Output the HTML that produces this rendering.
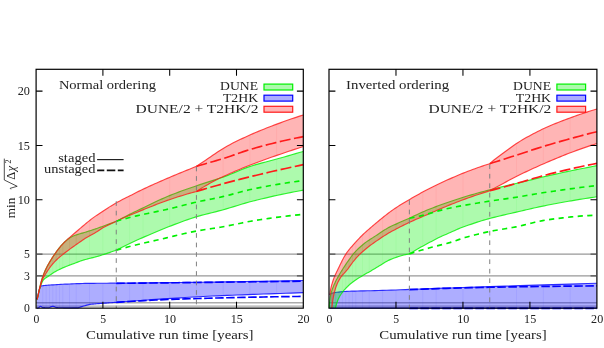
<!DOCTYPE html>
<html><head><meta charset="utf-8"><title>chart</title>
<style>html,body{margin:0;padding:0;background:#fff;}svg{display:block;will-change:transform;font-family:"Liberation Serif",serif;font-size:11.7px;fill:#222;}</style></head><body>
<svg width="604" height="348" viewBox="0 0 604 348">
<rect width="604" height="348" fill="#fff"/>
<g>
<line x1="36.10" x2="303.30" y1="254.07" y2="254.07" stroke="#989898" stroke-width="1.3"/>
<line x1="36.10" x2="303.30" y1="275.78" y2="275.78" stroke="#989898" stroke-width="1.3"/>
<line x1="36.10" x2="303.30" y1="302.75" y2="302.75" stroke="#ababab" stroke-width="1.35"/>
<line x1="36.10" x2="303.30" y1="306.15" y2="306.15" stroke="#ababab" stroke-width="1.15"/>
<clipPath id="cLblu_up"><path d="M36.90 299.42L37.31 297.76L37.80 295.77L38.37 293.40L39.02 290.65L39.76 288.13L40.57 286.23L41.48 285.90L42.46 285.72L43.53 285.60L44.68 285.47L45.91 285.36L47.22 285.26L48.62 285.16L50.10 285.05L51.66 284.94L53.31 284.83L55.04 284.72L56.85 284.61L58.74 284.51L60.72 284.40L62.77 284.30L64.91 284.19L67.14 284.09L69.45 283.98L71.83 283.87L74.31 283.77L76.86 283.68L79.50 283.59L82.22 283.51L85.02 283.44L87.91 283.39L90.87 283.34L93.93 283.31L97.06 283.28L100.27 283.26L103.57 283.24L106.95 283.22L110.42 283.19L113.96 283.16L117.59 283.13L121.31 283.10L125.10 283.06L128.98 283.03L132.94 282.99L136.98 282.95L141.11 282.90L145.31 282.86L149.60 282.82L153.98 282.77L158.43 282.72L162.97 282.67L167.59 282.62L172.30 282.56L177.08 282.51L181.95 282.45L186.90 282.39L191.94 282.33L197.06 282.27L202.26 282.20L207.54 282.13L212.90 282.06L218.35 281.98L223.88 281.90L229.49 281.81L235.19 281.72L240.97 281.63L246.83 281.53L252.77 281.43L258.80 281.33L264.91 281.22L271.10 281.12L277.38 281.00L283.73 280.89L290.17 280.78L296.69 280.66L303.30 280.54L303.30 292.69L297.44 292.88L291.64 293.07L285.91 293.25L280.24 293.45L274.64 293.64L269.10 293.83L263.63 294.03L258.22 294.22L252.88 294.42L247.60 294.62L242.39 294.82L237.24 295.02L232.16 295.22L227.14 295.42L222.19 295.62L217.30 295.82L212.48 296.03L207.72 296.25L203.03 296.48L198.40 296.71L193.84 296.96L189.35 297.23L184.91 297.52L180.55 297.82L176.25 298.11L172.01 298.40L167.84 298.67L163.73 298.93L159.69 299.19L155.71 299.44L151.80 299.69L147.95 299.95L144.17 300.20L140.46 300.47L136.80 300.73L133.22 301.00L129.70 301.26L126.24 301.53L122.85 301.80L119.52 302.08L116.26 302.35L114.96 302.44L113.67 302.52L112.40 302.61L111.13 302.70L109.87 302.79L108.63 302.88L107.39 302.98L106.17 303.07L104.95 303.16L103.75 303.26L102.56 303.35L101.37 303.44L100.20 303.53L99.04 303.61L97.89 303.69L96.75 303.78L95.62 303.86L94.50 303.96L93.40 304.06L92.30 304.17L91.21 304.30L90.14 304.43L89.07 304.60L88.02 304.82L86.97 305.10L85.94 305.41L84.91 305.72L83.90 306.01L82.90 306.31L81.91 306.61L80.93 306.92L79.96 307.23L79.00 307.56L78.05 307.88L76.75 307.88L75.46 307.88L74.20 307.88L72.96 307.88L71.73 307.87L70.53 307.87L69.35 307.86L68.19 307.85L67.05 307.84L65.93 307.83L64.84 307.82L63.76 307.81L62.70 307.79L61.66 307.78L60.65 307.76L59.65 307.74L58.68 307.72L57.72 307.69L56.79 307.67L55.88 307.47L54.99 307.08L54.11 306.66L53.26 306.39L52.43 306.40L51.62 306.60L50.83 306.89L50.06 307.23L49.32 307.53L48.59 307.73L47.88 307.77L47.20 307.77L46.53 307.76L45.88 307.74L45.26 307.72L44.66 307.69L44.07 307.66L43.51 307.62L42.97 307.57L42.45 307.47L41.94 307.20L41.46 306.84L41.00 306.52L40.57 306.37L40.15 306.47L39.75 306.79L39.37 307.19L39.01 307.53L38.68 307.70L38.36 307.79L38.07 307.88L37.79 307.95L37.54 308.02L37.31 308.06L37.09 308.09L36.90 308.10Z"/></clipPath>
<path d="M36.90 299.42L37.31 297.76L37.80 295.77L38.37 293.40L39.02 290.65L39.76 288.13L40.57 286.23L41.48 285.90L42.46 285.72L43.53 285.60L44.68 285.47L45.91 285.36L47.22 285.26L48.62 285.16L50.10 285.05L51.66 284.94L53.31 284.83L55.04 284.72L56.85 284.61L58.74 284.51L60.72 284.40L62.77 284.30L64.91 284.19L67.14 284.09L69.45 283.98L71.83 283.87L74.31 283.77L76.86 283.68L79.50 283.59L82.22 283.51L85.02 283.44L87.91 283.39L90.87 283.34L93.93 283.31L97.06 283.28L100.27 283.26L103.57 283.24L106.95 283.22L110.42 283.19L113.96 283.16L117.59 283.13L121.31 283.10L125.10 283.06L128.98 283.03L132.94 282.99L136.98 282.95L141.11 282.90L145.31 282.86L149.60 282.82L153.98 282.77L158.43 282.72L162.97 282.67L167.59 282.62L172.30 282.56L177.08 282.51L181.95 282.45L186.90 282.39L191.94 282.33L197.06 282.27L202.26 282.20L207.54 282.13L212.90 282.06L218.35 281.98L223.88 281.90L229.49 281.81L235.19 281.72L240.97 281.63L246.83 281.53L252.77 281.43L258.80 281.33L264.91 281.22L271.10 281.12L277.38 281.00L283.73 280.89L290.17 280.78L296.69 280.66L303.30 280.54L303.30 292.69L297.44 292.88L291.64 293.07L285.91 293.25L280.24 293.45L274.64 293.64L269.10 293.83L263.63 294.03L258.22 294.22L252.88 294.42L247.60 294.62L242.39 294.82L237.24 295.02L232.16 295.22L227.14 295.42L222.19 295.62L217.30 295.82L212.48 296.03L207.72 296.25L203.03 296.48L198.40 296.71L193.84 296.96L189.35 297.23L184.91 297.52L180.55 297.82L176.25 298.11L172.01 298.40L167.84 298.67L163.73 298.93L159.69 299.19L155.71 299.44L151.80 299.69L147.95 299.95L144.17 300.20L140.46 300.47L136.80 300.73L133.22 301.00L129.70 301.26L126.24 301.53L122.85 301.80L119.52 302.08L116.26 302.35L114.96 302.44L113.67 302.52L112.40 302.61L111.13 302.70L109.87 302.79L108.63 302.88L107.39 302.98L106.17 303.07L104.95 303.16L103.75 303.26L102.56 303.35L101.37 303.44L100.20 303.53L99.04 303.61L97.89 303.69L96.75 303.78L95.62 303.86L94.50 303.96L93.40 304.06L92.30 304.17L91.21 304.30L90.14 304.43L89.07 304.60L88.02 304.82L86.97 305.10L85.94 305.41L84.91 305.72L83.90 306.01L82.90 306.31L81.91 306.61L80.93 306.92L79.96 307.23L79.00 307.56L78.05 307.88L76.75 307.88L75.46 307.88L74.20 307.88L72.96 307.88L71.73 307.87L70.53 307.87L69.35 307.86L68.19 307.85L67.05 307.84L65.93 307.83L64.84 307.82L63.76 307.81L62.70 307.79L61.66 307.78L60.65 307.76L59.65 307.74L58.68 307.72L57.72 307.69L56.79 307.67L55.88 307.47L54.99 307.08L54.11 306.66L53.26 306.39L52.43 306.40L51.62 306.60L50.83 306.89L50.06 307.23L49.32 307.53L48.59 307.73L47.88 307.77L47.20 307.77L46.53 307.76L45.88 307.74L45.26 307.72L44.66 307.69L44.07 307.66L43.51 307.62L42.97 307.57L42.45 307.47L41.94 307.20L41.46 306.84L41.00 306.52L40.57 306.37L40.15 306.47L39.75 306.79L39.37 307.19L39.01 307.53L38.68 307.70L38.36 307.79L38.07 307.88L37.79 307.95L37.54 308.02L37.31 308.06L37.09 308.09L36.90 308.10Z" fill="#0000ff" fill-opacity="0.32" stroke="none"/>
<path d="M42.78 69.3V308.1M46.12 69.3V308.1M49.46 69.3V308.1M52.80 69.3V308.1M56.14 69.3V308.1M59.48 69.3V308.1M62.82 69.3V308.1M69.50 69.3V308.1M76.18 69.3V308.1M89.54 69.3V308.1M102.90 69.3V308.1M116.26 69.3V308.1M129.62 69.3V308.1M142.98 69.3V308.1M169.70 69.3V308.1M196.42 69.3V308.1M223.14 69.3V308.1M249.86 69.3V308.1M276.58 69.3V308.1" clip-path="url(#cLblu_up)" fill="none" stroke="#0000ff" stroke-opacity="0.075" stroke-width="0.8"/>
<path d="M36.90 299.42L37.31 297.76L37.80 295.77L38.37 293.40L39.02 290.65L39.76 288.13L40.57 286.23L41.48 285.90L42.46 285.72L43.53 285.60L44.68 285.47L45.91 285.36L47.22 285.26L48.62 285.16L50.10 285.05L51.66 284.94L53.31 284.83L55.04 284.72L56.85 284.61L58.74 284.51L60.72 284.40L62.77 284.30L64.91 284.19L67.14 284.09L69.45 283.98L71.83 283.87L74.31 283.77L76.86 283.68L79.50 283.59L82.22 283.51L85.02 283.44L87.91 283.39L90.87 283.34L93.93 283.31L97.06 283.28L100.27 283.26L103.57 283.24L106.95 283.22L110.42 283.19L113.96 283.16L117.59 283.13L121.31 283.10L125.10 283.06L128.98 283.03L132.94 282.99L136.98 282.95L141.11 282.90L145.31 282.86L149.60 282.82L153.98 282.77L158.43 282.72L162.97 282.67L167.59 282.62L172.30 282.56L177.08 282.51L181.95 282.45L186.90 282.39L191.94 282.33L197.06 282.27L202.26 282.20L207.54 282.13L212.90 282.06L218.35 281.98L223.88 281.90L229.49 281.81L235.19 281.72L240.97 281.63L246.83 281.53L252.77 281.43L258.80 281.33L264.91 281.22L271.10 281.12L277.38 281.00L283.73 280.89L290.17 280.78L296.69 280.66L303.30 280.54" fill="none" stroke="#0000ff" stroke-width="1.15" stroke-opacity="0.8"/>
<path d="M36.90 308.10L37.09 308.09L37.31 308.06L37.54 308.02L37.79 307.95L38.07 307.88L38.36 307.79L38.68 307.70L39.01 307.53L39.37 307.19L39.75 306.79L40.15 306.47L40.57 306.37L41.00 306.52L41.46 306.84L41.94 307.20L42.45 307.47L42.97 307.57L43.51 307.62L44.07 307.66L44.66 307.69L45.26 307.72L45.88 307.74L46.53 307.76L47.20 307.77L47.88 307.77L48.59 307.73L49.32 307.53L50.06 307.23L50.83 306.89L51.62 306.60L52.43 306.40L53.26 306.39L54.11 306.66L54.99 307.08L55.88 307.47L56.79 307.67L57.72 307.69L58.68 307.72L59.65 307.74L60.65 307.76L61.66 307.78L62.70 307.79L63.76 307.81L64.84 307.82L65.93 307.83L67.05 307.84L68.19 307.85L69.35 307.86L70.53 307.87L71.73 307.87L72.96 307.88L74.20 307.88L75.46 307.88L76.75 307.88L78.05 307.88L79.00 307.56L79.96 307.23L80.93 306.92L81.91 306.61L82.90 306.31L83.90 306.01L84.91 305.72L85.94 305.41L86.97 305.10L88.02 304.82L89.07 304.60L90.14 304.43L91.21 304.30L92.30 304.17L93.40 304.06L94.50 303.96L95.62 303.86L96.75 303.78L97.89 303.69L99.04 303.61L100.20 303.53L101.37 303.44L102.56 303.35L103.75 303.26L104.95 303.16L106.17 303.07L107.39 302.98L108.63 302.88L109.87 302.79L111.13 302.70L112.40 302.61L113.67 302.52L114.96 302.44L116.26 302.35L119.52 302.08L122.85 301.80L126.24 301.53L129.70 301.26L133.22 301.00L136.80 300.73L140.46 300.47L144.17 300.20L147.95 299.95L151.80 299.69L155.71 299.44L159.69 299.19L163.73 298.93L167.84 298.67L172.01 298.40L176.25 298.11L180.55 297.82L184.91 297.52L189.35 297.23L193.84 296.96L198.40 296.71L203.03 296.48L207.72 296.25L212.48 296.03L217.30 295.82L222.19 295.62L227.14 295.42L232.16 295.22L237.24 295.02L242.39 294.82L247.60 294.62L252.88 294.42L258.22 294.22L263.63 294.03L269.10 293.83L274.64 293.64L280.24 293.45L285.91 293.25L291.64 293.07L297.44 292.88L303.30 292.69" fill="none" stroke="#0000ff" stroke-width="1.15" stroke-opacity="0.8"/>
<clipPath id="cLgrn_up"><path d="M37.17 299.42L37.32 298.72L37.47 297.97L37.64 297.19L37.81 296.36L38.00 295.49L38.19 294.57L38.40 293.59L38.61 292.57L38.83 291.52L39.06 290.45L39.31 289.37L39.56 288.29L39.82 287.19L40.09 286.06L40.37 284.93L40.65 283.79L40.95 282.66L41.26 281.52L41.58 280.38L41.90 279.26L42.24 278.19L42.59 277.14L42.94 276.12L43.31 275.11L43.68 274.13L44.06 273.15L44.46 272.19L44.86 271.24L45.27 270.31L45.69 269.39L46.12 268.48L46.56 267.60L47.01 266.73L47.47 265.86L47.94 265.01L48.42 264.16L48.91 263.31L49.40 262.45L49.91 261.60L50.42 260.73L50.95 259.86L51.48 258.99L52.03 258.13L52.58 257.26L53.15 256.40L53.72 255.55L54.30 254.70L54.89 253.84L55.49 252.99L56.10 252.12L56.72 251.26L57.35 250.40L57.99 249.54L58.64 248.70L59.30 247.86L59.97 247.03L60.64 246.22L61.33 245.43L62.02 244.66L62.73 243.91L63.44 243.19L64.17 242.48L64.90 241.79L65.64 241.12L66.40 240.47L67.16 239.83L67.93 239.21L68.71 238.60L69.50 238.01L70.40 237.49L71.31 236.99L72.24 236.52L73.18 236.09L74.12 235.70L75.08 235.33L76.06 234.98L77.04 234.65L78.04 234.33L79.05 234.02L80.07 233.71L81.10 233.40L82.14 233.12L83.20 232.84L84.27 232.54L85.35 232.22L86.44 231.88L87.55 231.53L88.66 231.17L89.79 230.81L90.93 230.43L92.09 230.04L93.25 229.65L94.43 229.25L95.62 228.84L96.82 228.42L98.03 228.00L99.25 227.58L100.49 227.14L101.74 226.70L103.00 226.26L104.27 225.80L105.55 225.33L106.85 224.85L108.16 224.37L109.48 223.88L110.81 223.38L112.16 222.87L113.51 222.35L114.88 221.83L116.26 221.30L118.41 220.14L120.59 218.99L122.79 217.84L125.03 216.68L127.29 215.53L129.58 214.37L131.90 213.23L134.25 212.08L136.63 210.94L139.03 209.79L141.47 208.63L143.93 207.46L146.42 206.25L148.94 205.03L151.49 203.80L154.06 202.56L156.67 201.31L159.30 200.08L161.96 198.86L164.65 197.66L167.37 196.49L170.12 195.36L172.89 194.26L175.70 193.18L178.53 192.12L181.39 191.08L184.28 190.05L187.19 189.02L190.14 187.99L193.11 186.96L196.12 185.93L199.15 184.89L202.21 183.88L205.29 182.89L208.41 181.89L211.56 180.89L214.73 179.87L217.93 178.82L221.16 177.73L224.42 176.59L227.71 175.37L231.02 174.03L234.36 172.62L237.74 171.18L241.14 169.75L244.57 168.38L248.02 167.10L251.51 165.95L255.02 164.88L258.57 163.87L262.14 162.90L265.74 161.95L269.37 161.00L273.02 160.03L276.71 159.03L280.42 157.99L284.16 156.93L287.93 155.85L291.73 154.76L295.56 153.66L299.42 152.55L303.30 151.43L303.30 190.16L298.92 190.95L294.58 191.77L290.28 192.61L286.01 193.47L281.78 194.36L277.58 195.26L273.42 196.18L269.30 197.12L265.21 198.08L261.16 199.05L257.15 200.04L253.17 201.04L249.23 202.07L245.32 203.16L241.45 204.30L237.61 205.47L233.82 206.64L230.05 207.79L226.33 208.90L222.64 209.94L218.98 210.90L215.37 211.82L211.78 212.70L208.24 213.57L204.73 214.45L201.26 215.36L197.82 216.33L194.42 217.36L191.06 218.46L187.73 219.60L184.43 220.78L181.18 221.98L177.96 223.19L174.77 224.41L171.63 225.62L168.51 226.83L165.44 228.05L162.40 229.28L159.40 230.51L156.43 231.74L153.50 232.96L150.60 234.19L147.75 235.41L144.92 236.63L142.14 237.86L139.39 239.09L136.67 240.31L133.99 241.54L131.35 242.77L128.75 244.00L126.18 245.23L123.64 246.46L121.15 247.69L118.69 248.93L116.26 250.16L114.69 250.72L113.14 251.27L111.60 251.82L110.08 252.35L108.58 252.86L107.08 253.37L105.61 253.86L104.15 254.34L102.71 254.81L101.28 255.26L99.86 255.69L98.47 256.11L97.09 256.50L95.72 256.87L94.37 257.23L93.03 257.57L91.71 257.91L90.41 258.23L89.12 258.55L87.84 258.88L86.59 259.20L85.34 259.54L84.12 259.88L82.90 260.25L81.71 260.62L80.53 261.03L79.36 261.46L78.21 261.91L77.08 262.35L75.96 262.78L74.86 263.19L73.77 263.59L72.70 263.98L71.64 264.37L70.60 264.76L69.57 265.15L68.56 265.54L67.57 265.93L66.59 266.32L65.62 266.71L64.67 267.10L63.74 267.49L62.82 267.89L61.92 268.30L61.04 268.71L60.16 269.12L59.31 269.53L58.47 269.94L57.64 270.36L56.83 270.79L56.04 271.22L55.26 271.65L54.50 272.10L53.75 272.55L53.02 273.02L52.31 273.48L51.60 273.95L50.92 274.42L50.25 274.89L49.60 275.35L48.96 275.80L48.33 276.24L47.73 276.66L47.13 277.04L46.56 277.41L46.00 277.77L45.45 278.15L44.92 278.54L44.40 278.97L43.90 279.44L43.42 279.98L42.95 280.62L42.50 281.41L42.06 282.31L41.64 283.24L41.23 284.18L40.84 285.16L40.47 286.19L40.11 287.27L39.76 288.44L39.43 289.70L39.12 291.02L38.82 292.34L38.54 293.64L38.27 294.85L38.02 295.96L37.78 296.93L37.56 297.83L37.36 298.66L37.17 299.42Z"/></clipPath>
<path d="M37.17 299.42L37.32 298.72L37.47 297.97L37.64 297.19L37.81 296.36L38.00 295.49L38.19 294.57L38.40 293.59L38.61 292.57L38.83 291.52L39.06 290.45L39.31 289.37L39.56 288.29L39.82 287.19L40.09 286.06L40.37 284.93L40.65 283.79L40.95 282.66L41.26 281.52L41.58 280.38L41.90 279.26L42.24 278.19L42.59 277.14L42.94 276.12L43.31 275.11L43.68 274.13L44.06 273.15L44.46 272.19L44.86 271.24L45.27 270.31L45.69 269.39L46.12 268.48L46.56 267.60L47.01 266.73L47.47 265.86L47.94 265.01L48.42 264.16L48.91 263.31L49.40 262.45L49.91 261.60L50.42 260.73L50.95 259.86L51.48 258.99L52.03 258.13L52.58 257.26L53.15 256.40L53.72 255.55L54.30 254.70L54.89 253.84L55.49 252.99L56.10 252.12L56.72 251.26L57.35 250.40L57.99 249.54L58.64 248.70L59.30 247.86L59.97 247.03L60.64 246.22L61.33 245.43L62.02 244.66L62.73 243.91L63.44 243.19L64.17 242.48L64.90 241.79L65.64 241.12L66.40 240.47L67.16 239.83L67.93 239.21L68.71 238.60L69.50 238.01L70.40 237.49L71.31 236.99L72.24 236.52L73.18 236.09L74.12 235.70L75.08 235.33L76.06 234.98L77.04 234.65L78.04 234.33L79.05 234.02L80.07 233.71L81.10 233.40L82.14 233.12L83.20 232.84L84.27 232.54L85.35 232.22L86.44 231.88L87.55 231.53L88.66 231.17L89.79 230.81L90.93 230.43L92.09 230.04L93.25 229.65L94.43 229.25L95.62 228.84L96.82 228.42L98.03 228.00L99.25 227.58L100.49 227.14L101.74 226.70L103.00 226.26L104.27 225.80L105.55 225.33L106.85 224.85L108.16 224.37L109.48 223.88L110.81 223.38L112.16 222.87L113.51 222.35L114.88 221.83L116.26 221.30L118.41 220.14L120.59 218.99L122.79 217.84L125.03 216.68L127.29 215.53L129.58 214.37L131.90 213.23L134.25 212.08L136.63 210.94L139.03 209.79L141.47 208.63L143.93 207.46L146.42 206.25L148.94 205.03L151.49 203.80L154.06 202.56L156.67 201.31L159.30 200.08L161.96 198.86L164.65 197.66L167.37 196.49L170.12 195.36L172.89 194.26L175.70 193.18L178.53 192.12L181.39 191.08L184.28 190.05L187.19 189.02L190.14 187.99L193.11 186.96L196.12 185.93L199.15 184.89L202.21 183.88L205.29 182.89L208.41 181.89L211.56 180.89L214.73 179.87L217.93 178.82L221.16 177.73L224.42 176.59L227.71 175.37L231.02 174.03L234.36 172.62L237.74 171.18L241.14 169.75L244.57 168.38L248.02 167.10L251.51 165.95L255.02 164.88L258.57 163.87L262.14 162.90L265.74 161.95L269.37 161.00L273.02 160.03L276.71 159.03L280.42 157.99L284.16 156.93L287.93 155.85L291.73 154.76L295.56 153.66L299.42 152.55L303.30 151.43L303.30 190.16L298.92 190.95L294.58 191.77L290.28 192.61L286.01 193.47L281.78 194.36L277.58 195.26L273.42 196.18L269.30 197.12L265.21 198.08L261.16 199.05L257.15 200.04L253.17 201.04L249.23 202.07L245.32 203.16L241.45 204.30L237.61 205.47L233.82 206.64L230.05 207.79L226.33 208.90L222.64 209.94L218.98 210.90L215.37 211.82L211.78 212.70L208.24 213.57L204.73 214.45L201.26 215.36L197.82 216.33L194.42 217.36L191.06 218.46L187.73 219.60L184.43 220.78L181.18 221.98L177.96 223.19L174.77 224.41L171.63 225.62L168.51 226.83L165.44 228.05L162.40 229.28L159.40 230.51L156.43 231.74L153.50 232.96L150.60 234.19L147.75 235.41L144.92 236.63L142.14 237.86L139.39 239.09L136.67 240.31L133.99 241.54L131.35 242.77L128.75 244.00L126.18 245.23L123.64 246.46L121.15 247.69L118.69 248.93L116.26 250.16L114.69 250.72L113.14 251.27L111.60 251.82L110.08 252.35L108.58 252.86L107.08 253.37L105.61 253.86L104.15 254.34L102.71 254.81L101.28 255.26L99.86 255.69L98.47 256.11L97.09 256.50L95.72 256.87L94.37 257.23L93.03 257.57L91.71 257.91L90.41 258.23L89.12 258.55L87.84 258.88L86.59 259.20L85.34 259.54L84.12 259.88L82.90 260.25L81.71 260.62L80.53 261.03L79.36 261.46L78.21 261.91L77.08 262.35L75.96 262.78L74.86 263.19L73.77 263.59L72.70 263.98L71.64 264.37L70.60 264.76L69.57 265.15L68.56 265.54L67.57 265.93L66.59 266.32L65.62 266.71L64.67 267.10L63.74 267.49L62.82 267.89L61.92 268.30L61.04 268.71L60.16 269.12L59.31 269.53L58.47 269.94L57.64 270.36L56.83 270.79L56.04 271.22L55.26 271.65L54.50 272.10L53.75 272.55L53.02 273.02L52.31 273.48L51.60 273.95L50.92 274.42L50.25 274.89L49.60 275.35L48.96 275.80L48.33 276.24L47.73 276.66L47.13 277.04L46.56 277.41L46.00 277.77L45.45 278.15L44.92 278.54L44.40 278.97L43.90 279.44L43.42 279.98L42.95 280.62L42.50 281.41L42.06 282.31L41.64 283.24L41.23 284.18L40.84 285.16L40.47 286.19L40.11 287.27L39.76 288.44L39.43 289.70L39.12 291.02L38.82 292.34L38.54 293.64L38.27 294.85L38.02 295.96L37.78 296.93L37.56 297.83L37.36 298.66L37.17 299.42Z" fill="#00f000" fill-opacity="0.32" stroke="none"/>
<path d="M42.78 69.3V308.1M46.12 69.3V308.1M49.46 69.3V308.1M52.80 69.3V308.1M56.14 69.3V308.1M59.48 69.3V308.1M62.82 69.3V308.1M69.50 69.3V308.1M76.18 69.3V308.1M89.54 69.3V308.1M102.90 69.3V308.1M116.26 69.3V308.1M129.62 69.3V308.1M142.98 69.3V308.1M169.70 69.3V308.1M196.42 69.3V308.1M223.14 69.3V308.1M249.86 69.3V308.1M276.58 69.3V308.1" clip-path="url(#cLgrn_up)" fill="none" stroke="#00f000" stroke-opacity="0.075" stroke-width="0.8"/>
<path d="M37.17 299.42L37.32 298.72L37.47 297.97L37.64 297.19L37.81 296.36L38.00 295.49L38.19 294.57L38.40 293.59L38.61 292.57L38.83 291.52L39.06 290.45L39.31 289.37L39.56 288.29L39.82 287.19L40.09 286.06L40.37 284.93L40.65 283.79L40.95 282.66L41.26 281.52L41.58 280.38L41.90 279.26L42.24 278.19L42.59 277.14L42.94 276.12L43.31 275.11L43.68 274.13L44.06 273.15L44.46 272.19L44.86 271.24L45.27 270.31L45.69 269.39L46.12 268.48L46.56 267.60L47.01 266.73L47.47 265.86L47.94 265.01L48.42 264.16L48.91 263.31L49.40 262.45L49.91 261.60L50.42 260.73L50.95 259.86L51.48 258.99L52.03 258.13L52.58 257.26L53.15 256.40L53.72 255.55L54.30 254.70L54.89 253.84L55.49 252.99L56.10 252.12L56.72 251.26L57.35 250.40L57.99 249.54L58.64 248.70L59.30 247.86L59.97 247.03L60.64 246.22L61.33 245.43L62.02 244.66L62.73 243.91L63.44 243.19L64.17 242.48L64.90 241.79L65.64 241.12L66.40 240.47L67.16 239.83L67.93 239.21L68.71 238.60L69.50 238.01L70.40 237.49L71.31 236.99L72.24 236.52L73.18 236.09L74.12 235.70L75.08 235.33L76.06 234.98L77.04 234.65L78.04 234.33L79.05 234.02L80.07 233.71L81.10 233.40L82.14 233.12L83.20 232.84L84.27 232.54L85.35 232.22L86.44 231.88L87.55 231.53L88.66 231.17L89.79 230.81L90.93 230.43L92.09 230.04L93.25 229.65L94.43 229.25L95.62 228.84L96.82 228.42L98.03 228.00L99.25 227.58L100.49 227.14L101.74 226.70L103.00 226.26L104.27 225.80L105.55 225.33L106.85 224.85L108.16 224.37L109.48 223.88L110.81 223.38L112.16 222.87L113.51 222.35L114.88 221.83L116.26 221.30L118.41 220.14L120.59 218.99L122.79 217.84L125.03 216.68L127.29 215.53L129.58 214.37L131.90 213.23L134.25 212.08L136.63 210.94L139.03 209.79L141.47 208.63L143.93 207.46L146.42 206.25L148.94 205.03L151.49 203.80L154.06 202.56L156.67 201.31L159.30 200.08L161.96 198.86L164.65 197.66L167.37 196.49L170.12 195.36L172.89 194.26L175.70 193.18L178.53 192.12L181.39 191.08L184.28 190.05L187.19 189.02L190.14 187.99L193.11 186.96L196.12 185.93L199.15 184.89L202.21 183.88L205.29 182.89L208.41 181.89L211.56 180.89L214.73 179.87L217.93 178.82L221.16 177.73L224.42 176.59L227.71 175.37L231.02 174.03L234.36 172.62L237.74 171.18L241.14 169.75L244.57 168.38L248.02 167.10L251.51 165.95L255.02 164.88L258.57 163.87L262.14 162.90L265.74 161.95L269.37 161.00L273.02 160.03L276.71 159.03L280.42 157.99L284.16 156.93L287.93 155.85L291.73 154.76L295.56 153.66L299.42 152.55L303.30 151.43" fill="none" stroke="#00f000" stroke-width="1.15" stroke-opacity="0.8"/>
<path d="M37.17 299.42L37.36 298.66L37.56 297.83L37.78 296.93L38.02 295.96L38.27 294.85L38.54 293.64L38.82 292.34L39.12 291.02L39.43 289.70L39.76 288.44L40.11 287.27L40.47 286.19L40.84 285.16L41.23 284.18L41.64 283.24L42.06 282.31L42.50 281.41L42.95 280.62L43.42 279.98L43.90 279.44L44.40 278.97L44.92 278.54L45.45 278.15L46.00 277.77L46.56 277.41L47.13 277.04L47.73 276.66L48.33 276.24L48.96 275.80L49.60 275.35L50.25 274.89L50.92 274.42L51.60 273.95L52.31 273.48L53.02 273.02L53.75 272.55L54.50 272.10L55.26 271.65L56.04 271.22L56.83 270.79L57.64 270.36L58.47 269.94L59.31 269.53L60.16 269.12L61.04 268.71L61.92 268.30L62.82 267.89L63.74 267.49L64.67 267.10L65.62 266.71L66.59 266.32L67.57 265.93L68.56 265.54L69.57 265.15L70.60 264.76L71.64 264.37L72.70 263.98L73.77 263.59L74.86 263.19L75.96 262.78L77.08 262.35L78.21 261.91L79.36 261.46L80.53 261.03L81.71 260.62L82.90 260.25L84.12 259.88L85.34 259.54L86.59 259.20L87.84 258.88L89.12 258.55L90.41 258.23L91.71 257.91L93.03 257.57L94.37 257.23L95.72 256.87L97.09 256.50L98.47 256.11L99.86 255.69L101.28 255.26L102.71 254.81L104.15 254.34L105.61 253.86L107.08 253.37L108.58 252.86L110.08 252.35L111.60 251.82L113.14 251.27L114.69 250.72L116.26 250.16L118.69 248.93L121.15 247.69L123.64 246.46L126.18 245.23L128.75 244.00L131.35 242.77L133.99 241.54L136.67 240.31L139.39 239.09L142.14 237.86L144.92 236.63L147.75 235.41L150.60 234.19L153.50 232.96L156.43 231.74L159.40 230.51L162.40 229.28L165.44 228.05L168.51 226.83L171.63 225.62L174.77 224.41L177.96 223.19L181.18 221.98L184.43 220.78L187.73 219.60L191.06 218.46L194.42 217.36L197.82 216.33L201.26 215.36L204.73 214.45L208.24 213.57L211.78 212.70L215.37 211.82L218.98 210.90L222.64 209.94L226.33 208.90L230.05 207.79L233.82 206.64L237.61 205.47L241.45 204.30L245.32 203.16L249.23 202.07L253.17 201.04L257.15 200.04L261.16 199.05L265.21 198.08L269.30 197.12L273.42 196.18L277.58 195.26L281.78 194.36L286.01 193.47L290.28 192.61L294.58 191.77L298.92 190.95L303.30 190.16" fill="none" stroke="#00f000" stroke-width="1.15" stroke-opacity="0.8"/>
<clipPath id="cLred_up"><path d="M37.17 299.42L37.37 298.46L37.59 297.42L37.82 296.31L38.08 295.12L38.35 293.83L38.63 292.45L38.94 291.02L39.26 289.56L39.60 288.10L39.96 286.60L40.33 285.06L40.72 283.52L41.13 281.99L41.56 280.45L42.00 278.94L42.46 277.52L42.94 276.13L43.43 274.77L43.95 273.44L44.48 272.14L45.02 270.87L45.59 269.61L46.17 268.39L46.77 267.19L47.39 266.02L48.02 264.87L48.67 263.72L49.34 262.56L50.02 261.40L50.73 260.23L51.45 259.06L52.18 257.88L52.94 256.71L53.71 255.56L54.50 254.41L55.31 253.26L56.13 252.11L56.97 250.96L57.83 249.81L58.71 248.68L59.60 247.56L60.51 246.45L61.44 245.37L62.38 244.30L63.35 243.27L64.33 242.27L65.32 241.29L66.34 240.34L67.37 239.41L68.42 238.49L69.49 237.57L70.57 236.64L71.67 235.71L72.79 234.76L73.92 233.78L75.08 232.78L76.25 231.76L77.43 230.73L78.64 229.69L79.86 228.64L81.10 227.58L82.36 226.52L83.63 225.46L84.92 224.39L86.23 223.29L87.56 222.18L88.90 221.07L90.26 219.98L91.64 218.91L93.03 217.88L94.45 216.88L95.88 215.90L97.32 214.93L98.79 213.95L100.27 212.96L101.77 211.96L103.28 210.95L104.82 209.93L106.37 208.92L107.94 207.90L109.52 206.89L111.13 205.90L112.75 204.91L114.38 203.94L116.04 202.98L117.71 202.05L119.40 201.14L121.11 200.24L122.83 199.36L124.57 198.48L126.33 197.60L128.11 196.71L129.90 195.81L131.71 194.89L133.54 193.96L135.38 193.02L137.25 192.07L139.12 191.13L141.02 190.20L142.94 189.28L144.87 188.37L146.82 187.45L148.78 186.54L150.77 185.64L152.77 184.73L154.79 183.83L156.82 182.93L158.87 182.03L160.94 181.12L163.03 180.22L165.14 179.31L167.26 178.40L169.40 177.49L171.55 176.57L173.73 175.65L175.92 174.73L178.13 173.81L180.35 172.89L182.60 171.97L184.86 171.04L187.14 170.11L189.43 169.19L191.74 168.26L194.07 167.33L196.42 166.40L198.70 164.85L201.00 163.29L203.32 161.73L205.65 160.16L208.00 158.58L210.37 156.97L212.75 155.33L215.14 153.68L217.56 152.05L219.98 150.45L222.43 148.91L224.89 147.43L227.37 146.03L229.86 144.67L232.37 143.35L234.90 142.06L237.44 140.81L240.00 139.57L242.57 138.36L245.16 137.17L247.77 135.99L250.39 134.82L253.03 133.65L255.69 132.51L258.36 131.38L261.05 130.27L263.75 129.17L266.47 128.09L269.21 127.02L271.96 125.96L274.73 124.91L277.51 123.87L280.31 122.84L283.13 121.81L285.96 120.80L288.81 119.80L291.68 118.82L294.56 117.84L297.46 116.87L300.37 115.91L303.30 114.97L303.30 146.54L300.37 147.49L297.46 148.44L294.56 149.39L291.68 150.34L288.81 151.30L285.96 152.25L283.13 153.22L280.31 154.18L277.51 155.15L274.73 156.11L271.96 157.08L269.21 158.04L266.47 159.00L263.75 159.97L261.05 160.95L258.36 161.93L255.69 162.92L253.03 163.93L250.39 164.95L247.77 165.98L245.16 167.03L242.57 168.09L240.00 169.17L237.44 170.25L234.90 171.34L232.37 172.45L229.86 173.55L227.37 174.67L224.89 175.78L222.43 176.90L219.98 178.07L217.56 179.29L215.14 180.53L212.75 181.80L210.37 183.09L208.00 184.40L205.65 185.75L203.32 187.12L201.00 188.53L198.70 189.98L196.42 191.46L194.07 192.10L191.74 192.75L189.43 193.41L187.14 194.07L184.86 194.75L182.60 195.43L180.35 196.12L178.13 196.81L175.92 197.52L173.73 198.23L171.55 198.95L169.40 199.67L167.26 200.41L165.14 201.17L163.03 201.94L160.94 202.72L158.87 203.51L156.82 204.30L154.79 205.11L152.77 205.91L150.77 206.71L148.78 207.51L146.82 208.31L144.87 209.09L142.94 209.87L141.02 210.64L139.12 211.40L137.25 212.17L135.38 212.93L133.54 213.69L131.71 214.45L129.90 215.21L128.11 215.98L126.33 216.76L124.57 217.53L122.83 218.31L121.11 219.08L119.40 219.86L117.71 220.63L116.04 221.40L114.38 222.16L112.75 222.91L111.13 223.65L109.52 224.39L107.94 225.15L106.37 225.92L104.82 226.73L103.28 227.58L101.77 228.50L100.27 229.47L98.79 230.45L97.32 231.41L95.88 232.30L94.45 233.14L93.03 233.93L91.64 234.70L90.26 235.45L88.90 236.21L87.56 236.98L86.23 237.77L84.92 238.60L83.63 239.44L82.36 240.30L81.10 241.17L79.86 242.03L78.64 242.90L77.43 243.75L76.25 244.58L75.08 245.40L73.92 246.21L72.79 247.01L71.67 247.81L70.57 248.60L69.49 249.39L68.42 250.17L67.37 250.95L66.34 251.73L65.32 252.51L64.33 253.29L63.35 254.07L62.38 254.85L61.44 255.62L60.51 256.39L59.60 257.15L58.71 257.91L57.83 258.69L56.97 259.47L56.13 260.27L55.31 261.10L54.50 261.94L53.71 262.79L52.94 263.66L52.18 264.55L51.45 265.44L50.73 266.35L50.02 267.28L49.34 268.23L48.67 269.20L48.02 270.17L47.39 271.15L46.77 272.11L46.17 273.05L45.59 273.96L45.02 274.84L44.48 275.73L43.95 276.63L43.43 277.56L42.94 278.54L42.46 279.59L42.00 280.72L41.56 282.05L41.13 283.48L40.72 284.87L40.33 286.26L39.96 287.66L39.60 289.03L39.26 290.37L38.94 291.70L38.63 293.03L38.35 294.30L38.08 295.49L37.82 296.58L37.59 297.60L37.37 298.54L37.17 299.42Z"/></clipPath>
<path d="M37.17 299.42L37.37 298.46L37.59 297.42L37.82 296.31L38.08 295.12L38.35 293.83L38.63 292.45L38.94 291.02L39.26 289.56L39.60 288.10L39.96 286.60L40.33 285.06L40.72 283.52L41.13 281.99L41.56 280.45L42.00 278.94L42.46 277.52L42.94 276.13L43.43 274.77L43.95 273.44L44.48 272.14L45.02 270.87L45.59 269.61L46.17 268.39L46.77 267.19L47.39 266.02L48.02 264.87L48.67 263.72L49.34 262.56L50.02 261.40L50.73 260.23L51.45 259.06L52.18 257.88L52.94 256.71L53.71 255.56L54.50 254.41L55.31 253.26L56.13 252.11L56.97 250.96L57.83 249.81L58.71 248.68L59.60 247.56L60.51 246.45L61.44 245.37L62.38 244.30L63.35 243.27L64.33 242.27L65.32 241.29L66.34 240.34L67.37 239.41L68.42 238.49L69.49 237.57L70.57 236.64L71.67 235.71L72.79 234.76L73.92 233.78L75.08 232.78L76.25 231.76L77.43 230.73L78.64 229.69L79.86 228.64L81.10 227.58L82.36 226.52L83.63 225.46L84.92 224.39L86.23 223.29L87.56 222.18L88.90 221.07L90.26 219.98L91.64 218.91L93.03 217.88L94.45 216.88L95.88 215.90L97.32 214.93L98.79 213.95L100.27 212.96L101.77 211.96L103.28 210.95L104.82 209.93L106.37 208.92L107.94 207.90L109.52 206.89L111.13 205.90L112.75 204.91L114.38 203.94L116.04 202.98L117.71 202.05L119.40 201.14L121.11 200.24L122.83 199.36L124.57 198.48L126.33 197.60L128.11 196.71L129.90 195.81L131.71 194.89L133.54 193.96L135.38 193.02L137.25 192.07L139.12 191.13L141.02 190.20L142.94 189.28L144.87 188.37L146.82 187.45L148.78 186.54L150.77 185.64L152.77 184.73L154.79 183.83L156.82 182.93L158.87 182.03L160.94 181.12L163.03 180.22L165.14 179.31L167.26 178.40L169.40 177.49L171.55 176.57L173.73 175.65L175.92 174.73L178.13 173.81L180.35 172.89L182.60 171.97L184.86 171.04L187.14 170.11L189.43 169.19L191.74 168.26L194.07 167.33L196.42 166.40L198.70 164.85L201.00 163.29L203.32 161.73L205.65 160.16L208.00 158.58L210.37 156.97L212.75 155.33L215.14 153.68L217.56 152.05L219.98 150.45L222.43 148.91L224.89 147.43L227.37 146.03L229.86 144.67L232.37 143.35L234.90 142.06L237.44 140.81L240.00 139.57L242.57 138.36L245.16 137.17L247.77 135.99L250.39 134.82L253.03 133.65L255.69 132.51L258.36 131.38L261.05 130.27L263.75 129.17L266.47 128.09L269.21 127.02L271.96 125.96L274.73 124.91L277.51 123.87L280.31 122.84L283.13 121.81L285.96 120.80L288.81 119.80L291.68 118.82L294.56 117.84L297.46 116.87L300.37 115.91L303.30 114.97L303.30 146.54L300.37 147.49L297.46 148.44L294.56 149.39L291.68 150.34L288.81 151.30L285.96 152.25L283.13 153.22L280.31 154.18L277.51 155.15L274.73 156.11L271.96 157.08L269.21 158.04L266.47 159.00L263.75 159.97L261.05 160.95L258.36 161.93L255.69 162.92L253.03 163.93L250.39 164.95L247.77 165.98L245.16 167.03L242.57 168.09L240.00 169.17L237.44 170.25L234.90 171.34L232.37 172.45L229.86 173.55L227.37 174.67L224.89 175.78L222.43 176.90L219.98 178.07L217.56 179.29L215.14 180.53L212.75 181.80L210.37 183.09L208.00 184.40L205.65 185.75L203.32 187.12L201.00 188.53L198.70 189.98L196.42 191.46L194.07 192.10L191.74 192.75L189.43 193.41L187.14 194.07L184.86 194.75L182.60 195.43L180.35 196.12L178.13 196.81L175.92 197.52L173.73 198.23L171.55 198.95L169.40 199.67L167.26 200.41L165.14 201.17L163.03 201.94L160.94 202.72L158.87 203.51L156.82 204.30L154.79 205.11L152.77 205.91L150.77 206.71L148.78 207.51L146.82 208.31L144.87 209.09L142.94 209.87L141.02 210.64L139.12 211.40L137.25 212.17L135.38 212.93L133.54 213.69L131.71 214.45L129.90 215.21L128.11 215.98L126.33 216.76L124.57 217.53L122.83 218.31L121.11 219.08L119.40 219.86L117.71 220.63L116.04 221.40L114.38 222.16L112.75 222.91L111.13 223.65L109.52 224.39L107.94 225.15L106.37 225.92L104.82 226.73L103.28 227.58L101.77 228.50L100.27 229.47L98.79 230.45L97.32 231.41L95.88 232.30L94.45 233.14L93.03 233.93L91.64 234.70L90.26 235.45L88.90 236.21L87.56 236.98L86.23 237.77L84.92 238.60L83.63 239.44L82.36 240.30L81.10 241.17L79.86 242.03L78.64 242.90L77.43 243.75L76.25 244.58L75.08 245.40L73.92 246.21L72.79 247.01L71.67 247.81L70.57 248.60L69.49 249.39L68.42 250.17L67.37 250.95L66.34 251.73L65.32 252.51L64.33 253.29L63.35 254.07L62.38 254.85L61.44 255.62L60.51 256.39L59.60 257.15L58.71 257.91L57.83 258.69L56.97 259.47L56.13 260.27L55.31 261.10L54.50 261.94L53.71 262.79L52.94 263.66L52.18 264.55L51.45 265.44L50.73 266.35L50.02 267.28L49.34 268.23L48.67 269.20L48.02 270.17L47.39 271.15L46.77 272.11L46.17 273.05L45.59 273.96L45.02 274.84L44.48 275.73L43.95 276.63L43.43 277.56L42.94 278.54L42.46 279.59L42.00 280.72L41.56 282.05L41.13 283.48L40.72 284.87L40.33 286.26L39.96 287.66L39.60 289.03L39.26 290.37L38.94 291.70L38.63 293.03L38.35 294.30L38.08 295.49L37.82 296.58L37.59 297.60L37.37 298.54L37.17 299.42Z" fill="#ff1a1a" fill-opacity="0.32" stroke="none"/>
<path d="M42.78 69.3V308.1M46.12 69.3V308.1M49.46 69.3V308.1M52.80 69.3V308.1M56.14 69.3V308.1M59.48 69.3V308.1M62.82 69.3V308.1M69.50 69.3V308.1M76.18 69.3V308.1M89.54 69.3V308.1M102.90 69.3V308.1M116.26 69.3V308.1M129.62 69.3V308.1M142.98 69.3V308.1M169.70 69.3V308.1M196.42 69.3V308.1M223.14 69.3V308.1M249.86 69.3V308.1M276.58 69.3V308.1" clip-path="url(#cLred_up)" fill="none" stroke="#ff1a1a" stroke-opacity="0.075" stroke-width="0.8"/>
<path d="M37.17 299.42L37.37 298.46L37.59 297.42L37.82 296.31L38.08 295.12L38.35 293.83L38.63 292.45L38.94 291.02L39.26 289.56L39.60 288.10L39.96 286.60L40.33 285.06L40.72 283.52L41.13 281.99L41.56 280.45L42.00 278.94L42.46 277.52L42.94 276.13L43.43 274.77L43.95 273.44L44.48 272.14L45.02 270.87L45.59 269.61L46.17 268.39L46.77 267.19L47.39 266.02L48.02 264.87L48.67 263.72L49.34 262.56L50.02 261.40L50.73 260.23L51.45 259.06L52.18 257.88L52.94 256.71L53.71 255.56L54.50 254.41L55.31 253.26L56.13 252.11L56.97 250.96L57.83 249.81L58.71 248.68L59.60 247.56L60.51 246.45L61.44 245.37L62.38 244.30L63.35 243.27L64.33 242.27L65.32 241.29L66.34 240.34L67.37 239.41L68.42 238.49L69.49 237.57L70.57 236.64L71.67 235.71L72.79 234.76L73.92 233.78L75.08 232.78L76.25 231.76L77.43 230.73L78.64 229.69L79.86 228.64L81.10 227.58L82.36 226.52L83.63 225.46L84.92 224.39L86.23 223.29L87.56 222.18L88.90 221.07L90.26 219.98L91.64 218.91L93.03 217.88L94.45 216.88L95.88 215.90L97.32 214.93L98.79 213.95L100.27 212.96L101.77 211.96L103.28 210.95L104.82 209.93L106.37 208.92L107.94 207.90L109.52 206.89L111.13 205.90L112.75 204.91L114.38 203.94L116.04 202.98L117.71 202.05L119.40 201.14L121.11 200.24L122.83 199.36L124.57 198.48L126.33 197.60L128.11 196.71L129.90 195.81L131.71 194.89L133.54 193.96L135.38 193.02L137.25 192.07L139.12 191.13L141.02 190.20L142.94 189.28L144.87 188.37L146.82 187.45L148.78 186.54L150.77 185.64L152.77 184.73L154.79 183.83L156.82 182.93L158.87 182.03L160.94 181.12L163.03 180.22L165.14 179.31L167.26 178.40L169.40 177.49L171.55 176.57L173.73 175.65L175.92 174.73L178.13 173.81L180.35 172.89L182.60 171.97L184.86 171.04L187.14 170.11L189.43 169.19L191.74 168.26L194.07 167.33L196.42 166.40L198.70 164.85L201.00 163.29L203.32 161.73L205.65 160.16L208.00 158.58L210.37 156.97L212.75 155.33L215.14 153.68L217.56 152.05L219.98 150.45L222.43 148.91L224.89 147.43L227.37 146.03L229.86 144.67L232.37 143.35L234.90 142.06L237.44 140.81L240.00 139.57L242.57 138.36L245.16 137.17L247.77 135.99L250.39 134.82L253.03 133.65L255.69 132.51L258.36 131.38L261.05 130.27L263.75 129.17L266.47 128.09L269.21 127.02L271.96 125.96L274.73 124.91L277.51 123.87L280.31 122.84L283.13 121.81L285.96 120.80L288.81 119.80L291.68 118.82L294.56 117.84L297.46 116.87L300.37 115.91L303.30 114.97" fill="none" stroke="#ff1a1a" stroke-width="1.15" stroke-opacity="0.8"/>
<path d="M37.17 299.42L37.37 298.54L37.59 297.60L37.82 296.58L38.08 295.49L38.35 294.30L38.63 293.03L38.94 291.70L39.26 290.37L39.60 289.03L39.96 287.66L40.33 286.26L40.72 284.87L41.13 283.48L41.56 282.05L42.00 280.72L42.46 279.59L42.94 278.54L43.43 277.56L43.95 276.63L44.48 275.73L45.02 274.84L45.59 273.96L46.17 273.05L46.77 272.11L47.39 271.15L48.02 270.17L48.67 269.20L49.34 268.23L50.02 267.28L50.73 266.35L51.45 265.44L52.18 264.55L52.94 263.66L53.71 262.79L54.50 261.94L55.31 261.10L56.13 260.27L56.97 259.47L57.83 258.69L58.71 257.91L59.60 257.15L60.51 256.39L61.44 255.62L62.38 254.85L63.35 254.07L64.33 253.29L65.32 252.51L66.34 251.73L67.37 250.95L68.42 250.17L69.49 249.39L70.57 248.60L71.67 247.81L72.79 247.01L73.92 246.21L75.08 245.40L76.25 244.58L77.43 243.75L78.64 242.90L79.86 242.03L81.10 241.17L82.36 240.30L83.63 239.44L84.92 238.60L86.23 237.77L87.56 236.98L88.90 236.21L90.26 235.45L91.64 234.70L93.03 233.93L94.45 233.14L95.88 232.30L97.32 231.41L98.79 230.45L100.27 229.47L101.77 228.50L103.28 227.58L104.82 226.73L106.37 225.92L107.94 225.15L109.52 224.39L111.13 223.65L112.75 222.91L114.38 222.16L116.04 221.40L117.71 220.63L119.40 219.86L121.11 219.08L122.83 218.31L124.57 217.53L126.33 216.76L128.11 215.98L129.90 215.21L131.71 214.45L133.54 213.69L135.38 212.93L137.25 212.17L139.12 211.40L141.02 210.64L142.94 209.87L144.87 209.09L146.82 208.31L148.78 207.51L150.77 206.71L152.77 205.91L154.79 205.11L156.82 204.30L158.87 203.51L160.94 202.72L163.03 201.94L165.14 201.17L167.26 200.41L169.40 199.67L171.55 198.95L173.73 198.23L175.92 197.52L178.13 196.81L180.35 196.12L182.60 195.43L184.86 194.75L187.14 194.07L189.43 193.41L191.74 192.75L194.07 192.10L196.42 191.46L198.70 189.98L201.00 188.53L203.32 187.12L205.65 185.75L208.00 184.40L210.37 183.09L212.75 181.80L215.14 180.53L217.56 179.29L219.98 178.07L222.43 176.90L224.89 175.78L227.37 174.67L229.86 173.55L232.37 172.45L234.90 171.34L237.44 170.25L240.00 169.17L242.57 168.09L245.16 167.03L247.77 165.98L250.39 164.95L253.03 163.93L255.69 162.92L258.36 161.93L261.05 160.95L263.75 159.97L266.47 159.00L269.21 158.04L271.96 157.08L274.73 156.11L277.51 155.15L280.31 154.18L283.13 153.22L285.96 152.25L288.81 151.30L291.68 150.34L294.56 149.39L297.46 148.44L300.37 147.49L303.30 146.54" fill="none" stroke="#ff1a1a" stroke-width="1.15" stroke-opacity="0.8"/>
<path d="M116.26 283.36L123.02 283.29L130.04 283.22L137.35 283.15L144.92 283.06L152.77 282.98L160.89 282.89L169.29 282.80L177.96 282.70L186.90 282.60L196.12 282.50L205.60 282.39L215.37 282.28L225.40 282.16L235.71 282.03L246.29 281.91L257.15 281.77L268.28 281.63L279.68 281.49L291.35 281.34L303.30 281.19" fill="none" stroke="#0000ff" stroke-width="1.65" stroke-dasharray="8.5 2.5"/>
<path d="M116.26 302.35L119.52 302.13L122.85 301.91L126.24 301.69L129.70 301.48L133.22 301.27L136.80 301.06L140.46 300.86L144.17 300.66L147.95 300.45L151.80 300.25L155.71 300.05L159.69 299.86L163.73 299.67L167.84 299.49L172.01 299.33L176.25 299.18L180.55 299.03L184.91 298.89L189.35 298.76L193.84 298.63L198.40 298.50L203.03 298.37L207.72 298.24L212.48 298.11L217.30 297.99L222.19 297.86L227.14 297.74L232.16 297.63L237.24 297.51L242.39 297.40L247.60 297.29L252.88 297.19L258.22 297.09L263.63 296.99L269.10 296.90L274.64 296.80L280.24 296.71L285.91 296.63L291.64 296.54L297.44 296.46L303.30 296.38" fill="none" stroke="#0000ff" stroke-width="1.65" stroke-dasharray="8.5 2.5"/>
<path d="M116.26 221.30L118.69 220.56L121.15 219.83L123.64 219.12L126.18 218.43L128.75 217.76L131.35 217.10L133.99 216.45L136.67 215.84L139.39 215.24L142.14 214.65L144.92 214.05L147.75 213.44L150.60 212.83L153.50 212.22L156.43 211.61L159.40 210.99L162.40 210.35L165.44 209.69L168.51 209.00L171.63 208.28L174.77 207.51L177.96 206.70L181.18 205.87L184.43 205.03L187.73 204.19L191.06 203.36L194.42 202.55L197.82 201.78L201.26 201.05L204.73 200.34L208.24 199.65L211.78 198.95L215.37 198.23L218.98 197.48L222.64 196.68L226.33 195.80L230.05 194.84L233.82 193.82L237.61 192.78L241.45 191.74L245.32 190.74L249.23 189.81L253.17 188.97L257.15 188.15L261.16 187.35L265.21 186.57L269.30 185.81L273.42 185.07L277.58 184.35L281.78 183.66L286.01 182.99L290.28 182.35L294.58 181.74L298.92 181.16L303.30 180.61" fill="none" stroke="#00f000" stroke-width="1.65" stroke-dasharray="5.2 4.4"/>
<path d="M116.26 250.16L119.04 249.37L121.87 248.58L124.75 247.80L127.67 247.03L130.64 246.26L133.66 245.50L136.73 244.75L139.84 244.02L143.00 243.29L146.21 242.56L149.47 241.83L152.77 241.09L156.12 240.32L159.52 239.53L162.97 238.70L166.46 237.85L170.00 236.98L173.59 236.10L177.23 235.23L180.91 234.36L184.64 233.50L188.42 232.68L192.24 231.88L196.12 231.12L200.04 230.42L204.00 229.76L208.02 229.14L212.08 228.51L216.19 227.88L220.35 227.20L224.55 226.47L228.81 225.66L233.11 224.78L237.45 223.87L241.85 222.95L246.29 222.05L250.78 221.19L255.32 220.41L259.90 219.70L264.54 219.01L269.21 218.34L273.94 217.69L278.72 217.06L283.54 216.46L288.41 215.89L293.32 215.34L298.29 214.83L303.30 214.36" fill="none" stroke="#00f000" stroke-width="1.65" stroke-dasharray="5.2 4.4"/>
<path d="M196.42 166.40L199.18 165.58L201.96 164.76L204.76 163.93L207.58 163.10L210.43 162.27L213.31 161.43L216.21 160.59L219.13 159.75L222.07 158.91L225.04 157.99L228.03 157.00L231.04 155.96L234.08 154.89L237.14 153.81L240.23 152.72L243.33 151.65L246.47 150.61L249.62 149.62L252.80 148.69L256.00 147.79L259.23 146.90L262.48 146.02L265.75 145.15L269.05 144.29L272.37 143.45L275.71 142.63L279.08 141.82L282.47 141.03L285.88 140.25L289.32 139.49L292.78 138.76L296.26 138.04L299.77 137.34L303.30 136.67" fill="none" stroke="#ff1a1a" stroke-width="1.65" stroke-dasharray="11 3.5"/>
<path d="M196.42 191.46L199.89 190.40L203.41 189.35L206.95 188.30L210.54 187.26L214.16 186.22L217.82 185.19L221.52 184.17L225.26 183.15L229.03 182.14L232.84 181.13L236.69 180.13L240.57 179.13L244.49 178.14L248.45 177.15L252.45 176.17L256.48 175.20L260.55 174.22L264.66 173.25L268.80 172.28L272.98 171.31L277.20 170.35L281.46 169.39L285.75 168.44L290.08 167.49L294.45 166.54L298.86 165.60L303.30 164.66" fill="none" stroke="#ff1a1a" stroke-width="1.65" stroke-dasharray="11 3.5"/>
<line x1="116.26" x2="116.26" y1="201.23" y2="308.15" stroke="#808080" stroke-width="1" stroke-dasharray="4.7 4.8"/>
<line x1="196.42" x2="196.42" y1="166.62" y2="308.15" stroke="#808080" stroke-width="1" stroke-dasharray="4.7 4.8"/>
<rect x="36.10" y="69.30" width="267.20" height="238.85" fill="none" stroke="#000" stroke-width="1.2"/>
<path d="M102.90 308.15v-6.40M102.90 69.30v6.40M169.70 308.15v-6.40M169.70 69.30v6.40M236.50 308.15v-6.40M236.50 69.30v6.40M36.10 199.68h6.40M303.30 199.68h-6.40M36.10 145.40h6.40M303.30 145.40h-6.40M36.10 91.11h6.40M303.30 91.11h-6.40" fill="none" stroke="#000" stroke-width="1.05"/>
<path d="M36.10 275.78h6.40M303.30 275.78h-6.40M36.10 254.07h6.40M303.30 254.07h-6.40" fill="none" stroke="#505050" stroke-width="1.2"/>
<text x="36.40" y="323.4" text-anchor="middle">0</text>
<text x="103.20" y="323.4" text-anchor="middle">5</text>
<text x="163.90" y="323.4" textLength="12.1" lengthAdjust="spacingAndGlyphs">10</text>
<text x="230.70" y="323.4" textLength="12.1" lengthAdjust="spacingAndGlyphs">15</text>
<text x="297.50" y="323.4" textLength="12.1" lengthAdjust="spacingAndGlyphs">20</text>
<text x="86.00" y="339.4" textLength="167.5" lengthAdjust="spacingAndGlyphs">Cumulative run time [years]</text>
<text x="58.9" y="88.5" textLength="97" lengthAdjust="spacingAndGlyphs">Normal ordering</text>
<text x="220.10" y="90.40" textLength="38.0" lengthAdjust="spacingAndGlyphs">DUNE</text>
<rect x="264.00" y="84.10" width="28.7" height="5.9" fill="#00f000" fill-opacity="0.32" stroke="#00f000" stroke-width="1.2"/>
<text x="222.90" y="101.50" textLength="35.3" lengthAdjust="spacingAndGlyphs">T2HK</text>
<rect x="264.00" y="95.20" width="28.7" height="5.9" fill="#0000ff" fill-opacity="0.32" stroke="#0000ff" stroke-width="1.2"/>
<text x="135.60" y="112.60" textLength="122.8" lengthAdjust="spacingAndGlyphs">DUNE/2 + T2HK/2</text>
<rect x="264.00" y="106.30" width="28.7" height="5.9" fill="#ff1a1a" fill-opacity="0.32" stroke="#ff1a1a" stroke-width="1.2"/>
</g>
<g>
<line x1="329.00" x2="596.90" y1="254.07" y2="254.07" stroke="#989898" stroke-width="1.3"/>
<line x1="329.00" x2="596.90" y1="275.78" y2="275.78" stroke="#989898" stroke-width="1.3"/>
<line x1="329.00" x2="596.90" y1="302.75" y2="302.75" stroke="#ababab" stroke-width="1.35"/>
<line x1="329.00" x2="596.90" y1="306.15" y2="306.15" stroke="#ababab" stroke-width="1.15"/>
<clipPath id="cRblu_up"><path d="M329.67 294.54L330.21 294.08L330.91 293.67L331.78 293.31L332.80 293.00L333.98 292.73L335.32 292.49L336.83 292.27L338.49 292.06L340.31 291.87L342.29 291.69L344.43 291.53L346.73 291.40L349.19 291.28L351.81 291.18L354.59 291.09L357.53 291.01L360.64 290.93L363.90 290.86L367.32 290.79L370.90 290.71L374.64 290.62L378.53 290.53L382.59 290.41L386.81 290.28L391.19 290.13L395.73 289.96L400.43 289.78L405.29 289.59L410.31 289.40L415.49 289.21L420.82 289.02L426.32 288.82L431.98 288.61L437.80 288.40L443.78 288.19L449.91 287.97L456.21 287.75L462.67 287.53L469.29 287.30L476.06 287.07L483.00 286.84L490.10 286.61L497.35 286.37L504.77 286.13L512.35 285.88L520.08 285.64L527.98 285.39L536.03 285.13L544.25 284.87L552.62 284.61L561.16 284.35L569.86 284.08L578.71 283.81L587.73 283.53L596.90 283.25L596.90 308.10L329.67 308.10Z"/></clipPath>
<path d="M329.67 294.54L330.21 294.08L330.91 293.67L331.78 293.31L332.80 293.00L333.98 292.73L335.32 292.49L336.83 292.27L338.49 292.06L340.31 291.87L342.29 291.69L344.43 291.53L346.73 291.40L349.19 291.28L351.81 291.18L354.59 291.09L357.53 291.01L360.64 290.93L363.90 290.86L367.32 290.79L370.90 290.71L374.64 290.62L378.53 290.53L382.59 290.41L386.81 290.28L391.19 290.13L395.73 289.96L400.43 289.78L405.29 289.59L410.31 289.40L415.49 289.21L420.82 289.02L426.32 288.82L431.98 288.61L437.80 288.40L443.78 288.19L449.91 287.97L456.21 287.75L462.67 287.53L469.29 287.30L476.06 287.07L483.00 286.84L490.10 286.61L497.35 286.37L504.77 286.13L512.35 285.88L520.08 285.64L527.98 285.39L536.03 285.13L544.25 284.87L552.62 284.61L561.16 284.35L569.86 284.08L578.71 283.81L587.73 283.53L596.90 283.25L596.90 308.10L329.67 308.10Z" fill="#0000ff" fill-opacity="0.32" stroke="none"/>
<path d="M335.70 69.3V308.1M339.05 69.3V308.1M342.39 69.3V308.1M345.74 69.3V308.1M349.09 69.3V308.1M352.44 69.3V308.1M355.79 69.3V308.1M362.49 69.3V308.1M369.19 69.3V308.1M382.58 69.3V308.1M395.98 69.3V308.1M409.37 69.3V308.1M422.76 69.3V308.1M436.16 69.3V308.1M462.95 69.3V308.1M489.74 69.3V308.1M516.53 69.3V308.1M543.32 69.3V308.1M570.11 69.3V308.1" clip-path="url(#cRblu_up)" fill="none" stroke="#0000ff" stroke-opacity="0.075" stroke-width="0.8"/>
<path d="M329.67 294.54L330.21 294.08L330.91 293.67L331.78 293.31L332.80 293.00L333.98 292.73L335.32 292.49L336.83 292.27L338.49 292.06L340.31 291.87L342.29 291.69L344.43 291.53L346.73 291.40L349.19 291.28L351.81 291.18L354.59 291.09L357.53 291.01L360.64 290.93L363.90 290.86L367.32 290.79L370.90 290.71L374.64 290.62L378.53 290.53L382.59 290.41L386.81 290.28L391.19 290.13L395.73 289.96L400.43 289.78L405.29 289.59L410.31 289.40L415.49 289.21L420.82 289.02L426.32 288.82L431.98 288.61L437.80 288.40L443.78 288.19L449.91 287.97L456.21 287.75L462.67 287.53L469.29 287.30L476.06 287.07L483.00 286.84L490.10 286.61L497.35 286.37L504.77 286.13L512.35 285.88L520.08 285.64L527.98 285.39L536.03 285.13L544.25 284.87L552.62 284.61L561.16 284.35L569.86 284.08L578.71 283.81L587.73 283.53L596.90 283.25" fill="none" stroke="#0000ff" stroke-width="1.15" stroke-opacity="0.8"/>
<path d="M329.67 308.10L596.90 308.10" fill="none" stroke="#0000ff" stroke-width="1.15" stroke-opacity="0.8"/>
<clipPath id="cRgrn_up"><path d="M329.27 308.10L329.38 306.10L329.52 304.15L329.68 302.29L329.86 300.52L330.05 298.86L330.27 297.33L330.51 295.94L330.77 294.64L331.06 293.42L331.36 292.27L331.68 291.16L332.02 290.08L332.39 289.03L332.77 287.98L333.18 286.92L333.61 285.84L334.05 284.76L334.52 283.70L335.01 282.66L335.52 281.62L336.05 280.59L336.60 279.54L337.17 278.48L337.76 277.40L338.38 276.30L339.01 275.19L339.66 274.06L340.34 272.93L341.03 271.78L341.75 270.62L342.49 269.45L343.25 268.27L344.02 267.08L344.82 265.88L345.64 264.66L346.48 263.44L347.35 262.20L348.23 260.95L349.13 259.68L350.06 258.36L351.00 257.00L351.96 255.65L352.95 254.37L353.96 253.18L354.98 252.03L356.03 250.91L357.10 249.82L358.19 248.76L359.30 247.72L360.43 246.70L361.58 245.70L362.75 244.72L363.95 243.76L365.16 242.81L366.40 241.90L367.65 241.02L368.93 240.16L370.22 239.32L371.54 238.48L372.88 237.63L374.24 236.77L375.62 235.88L377.02 234.96L378.44 234.01L379.88 233.03L381.34 232.04L382.82 231.05L384.33 230.07L385.85 229.13L387.40 228.22L388.96 227.37L390.55 226.58L392.16 225.83L393.79 225.10L395.43 224.37L397.10 223.61L398.79 222.85L400.50 222.09L402.24 221.33L403.99 220.56L405.76 219.80L407.56 219.03L409.37 218.26L411.80 217.04L414.27 215.84L416.77 214.65L419.31 213.48L421.89 212.33L424.50 211.19L427.15 210.08L429.84 208.99L432.56 207.92L435.31 206.86L438.11 205.82L440.94 204.79L443.80 203.77L446.71 202.75L449.65 201.74L452.62 200.73L455.63 199.73L458.68 198.73L461.76 197.74L464.88 196.77L468.04 195.81L471.23 194.86L474.46 193.94L477.72 193.03L481.02 192.13L484.36 191.24L487.73 190.36L491.14 189.47L494.59 188.60L498.07 187.74L501.59 186.88L505.15 186.03L508.74 185.18L512.36 184.32L516.03 183.45L519.73 182.58L523.46 181.69L527.23 180.77L531.04 179.84L534.89 178.90L538.77 177.96L542.68 177.04L546.64 176.13L550.63 175.23L554.65 174.33L558.71 173.44L562.81 172.55L566.95 171.67L571.12 170.79L575.32 169.92L579.57 169.05L583.85 168.19L588.16 167.33L592.51 166.48L596.90 165.64L596.90 196.78L593.99 197.20L591.09 197.63L588.21 198.06L585.35 198.51L582.50 198.96L579.67 199.41L576.85 199.87L574.05 200.34L571.27 200.82L568.50 201.29L565.75 201.78L563.01 202.27L560.29 202.76L557.58 203.26L554.90 203.77L552.22 204.28L549.57 204.79L546.92 205.31L544.30 205.83L541.69 206.36L539.10 206.91L536.52 207.48L533.96 208.05L531.41 208.63L528.88 209.21L526.37 209.79L523.87 210.38L521.39 210.95L518.92 211.53L516.47 212.09L514.04 212.65L511.62 213.19L509.21 213.74L506.83 214.28L504.46 214.83L502.10 215.38L499.76 215.95L497.44 216.51L495.13 217.08L492.84 217.67L490.57 218.26L488.31 218.87L486.06 219.48L483.84 220.12L481.62 220.77L479.43 221.44L477.25 222.14L475.08 222.87L472.94 223.60L470.80 224.34L468.69 225.07L466.59 225.79L464.50 226.51L462.44 227.26L460.38 228.04L458.35 228.87L456.33 229.75L454.32 230.66L452.33 231.57L450.36 232.47L448.40 233.32L446.46 234.16L444.53 235.00L442.63 235.84L440.73 236.71L438.85 237.61L436.99 238.54L435.15 239.48L433.32 240.44L431.50 241.40L429.71 242.36L427.92 243.31L426.16 244.26L424.41 245.21L422.67 246.17L420.95 247.12L419.25 248.08L417.56 249.04L415.89 250.00L414.24 250.96L412.60 251.92L410.98 252.88L409.37 253.85L407.52 254.19L405.69 254.57L403.89 255.00L402.10 255.48L400.34 255.98L398.60 256.53L396.88 257.10L395.18 257.71L393.51 258.33L391.85 258.98L390.22 259.65L388.61 260.36L387.02 261.17L385.45 262.05L383.90 262.99L382.37 263.95L380.87 264.90L379.39 265.83L377.93 266.71L376.49 267.57L375.07 268.43L373.67 269.28L372.29 270.10L370.94 270.89L369.61 271.65L368.30 272.39L367.01 273.11L365.74 273.82L364.49 274.53L363.27 275.23L362.07 275.93L360.88 276.65L359.72 277.38L358.58 278.10L357.47 278.81L356.37 279.53L355.30 280.25L354.24 280.98L353.21 281.72L352.20 282.47L351.22 283.25L350.25 284.06L349.30 284.89L348.38 285.73L347.48 286.59L346.60 287.48L345.74 288.38L344.90 289.30L344.08 290.24L343.29 291.21L342.52 292.21L341.76 293.23L341.03 294.25L340.32 295.31L339.64 296.43L338.97 297.64L338.33 298.99L337.71 300.50L337.10 302.18L336.52 304.02L335.97 306.00L335.43 308.10Z"/></clipPath>
<path d="M329.27 308.10L329.38 306.10L329.52 304.15L329.68 302.29L329.86 300.52L330.05 298.86L330.27 297.33L330.51 295.94L330.77 294.64L331.06 293.42L331.36 292.27L331.68 291.16L332.02 290.08L332.39 289.03L332.77 287.98L333.18 286.92L333.61 285.84L334.05 284.76L334.52 283.70L335.01 282.66L335.52 281.62L336.05 280.59L336.60 279.54L337.17 278.48L337.76 277.40L338.38 276.30L339.01 275.19L339.66 274.06L340.34 272.93L341.03 271.78L341.75 270.62L342.49 269.45L343.25 268.27L344.02 267.08L344.82 265.88L345.64 264.66L346.48 263.44L347.35 262.20L348.23 260.95L349.13 259.68L350.06 258.36L351.00 257.00L351.96 255.65L352.95 254.37L353.96 253.18L354.98 252.03L356.03 250.91L357.10 249.82L358.19 248.76L359.30 247.72L360.43 246.70L361.58 245.70L362.75 244.72L363.95 243.76L365.16 242.81L366.40 241.90L367.65 241.02L368.93 240.16L370.22 239.32L371.54 238.48L372.88 237.63L374.24 236.77L375.62 235.88L377.02 234.96L378.44 234.01L379.88 233.03L381.34 232.04L382.82 231.05L384.33 230.07L385.85 229.13L387.40 228.22L388.96 227.37L390.55 226.58L392.16 225.83L393.79 225.10L395.43 224.37L397.10 223.61L398.79 222.85L400.50 222.09L402.24 221.33L403.99 220.56L405.76 219.80L407.56 219.03L409.37 218.26L411.80 217.04L414.27 215.84L416.77 214.65L419.31 213.48L421.89 212.33L424.50 211.19L427.15 210.08L429.84 208.99L432.56 207.92L435.31 206.86L438.11 205.82L440.94 204.79L443.80 203.77L446.71 202.75L449.65 201.74L452.62 200.73L455.63 199.73L458.68 198.73L461.76 197.74L464.88 196.77L468.04 195.81L471.23 194.86L474.46 193.94L477.72 193.03L481.02 192.13L484.36 191.24L487.73 190.36L491.14 189.47L494.59 188.60L498.07 187.74L501.59 186.88L505.15 186.03L508.74 185.18L512.36 184.32L516.03 183.45L519.73 182.58L523.46 181.69L527.23 180.77L531.04 179.84L534.89 178.90L538.77 177.96L542.68 177.04L546.64 176.13L550.63 175.23L554.65 174.33L558.71 173.44L562.81 172.55L566.95 171.67L571.12 170.79L575.32 169.92L579.57 169.05L583.85 168.19L588.16 167.33L592.51 166.48L596.90 165.64L596.90 196.78L593.99 197.20L591.09 197.63L588.21 198.06L585.35 198.51L582.50 198.96L579.67 199.41L576.85 199.87L574.05 200.34L571.27 200.82L568.50 201.29L565.75 201.78L563.01 202.27L560.29 202.76L557.58 203.26L554.90 203.77L552.22 204.28L549.57 204.79L546.92 205.31L544.30 205.83L541.69 206.36L539.10 206.91L536.52 207.48L533.96 208.05L531.41 208.63L528.88 209.21L526.37 209.79L523.87 210.38L521.39 210.95L518.92 211.53L516.47 212.09L514.04 212.65L511.62 213.19L509.21 213.74L506.83 214.28L504.46 214.83L502.10 215.38L499.76 215.95L497.44 216.51L495.13 217.08L492.84 217.67L490.57 218.26L488.31 218.87L486.06 219.48L483.84 220.12L481.62 220.77L479.43 221.44L477.25 222.14L475.08 222.87L472.94 223.60L470.80 224.34L468.69 225.07L466.59 225.79L464.50 226.51L462.44 227.26L460.38 228.04L458.35 228.87L456.33 229.75L454.32 230.66L452.33 231.57L450.36 232.47L448.40 233.32L446.46 234.16L444.53 235.00L442.63 235.84L440.73 236.71L438.85 237.61L436.99 238.54L435.15 239.48L433.32 240.44L431.50 241.40L429.71 242.36L427.92 243.31L426.16 244.26L424.41 245.21L422.67 246.17L420.95 247.12L419.25 248.08L417.56 249.04L415.89 250.00L414.24 250.96L412.60 251.92L410.98 252.88L409.37 253.85L407.52 254.19L405.69 254.57L403.89 255.00L402.10 255.48L400.34 255.98L398.60 256.53L396.88 257.10L395.18 257.71L393.51 258.33L391.85 258.98L390.22 259.65L388.61 260.36L387.02 261.17L385.45 262.05L383.90 262.99L382.37 263.95L380.87 264.90L379.39 265.83L377.93 266.71L376.49 267.57L375.07 268.43L373.67 269.28L372.29 270.10L370.94 270.89L369.61 271.65L368.30 272.39L367.01 273.11L365.74 273.82L364.49 274.53L363.27 275.23L362.07 275.93L360.88 276.65L359.72 277.38L358.58 278.10L357.47 278.81L356.37 279.53L355.30 280.25L354.24 280.98L353.21 281.72L352.20 282.47L351.22 283.25L350.25 284.06L349.30 284.89L348.38 285.73L347.48 286.59L346.60 287.48L345.74 288.38L344.90 289.30L344.08 290.24L343.29 291.21L342.52 292.21L341.76 293.23L341.03 294.25L340.32 295.31L339.64 296.43L338.97 297.64L338.33 298.99L337.71 300.50L337.10 302.18L336.52 304.02L335.97 306.00L335.43 308.10Z" fill="#00f000" fill-opacity="0.32" stroke="none"/>
<path d="M335.70 69.3V308.1M339.05 69.3V308.1M342.39 69.3V308.1M345.74 69.3V308.1M349.09 69.3V308.1M352.44 69.3V308.1M355.79 69.3V308.1M362.49 69.3V308.1M369.19 69.3V308.1M382.58 69.3V308.1M395.98 69.3V308.1M409.37 69.3V308.1M422.76 69.3V308.1M436.16 69.3V308.1M462.95 69.3V308.1M489.74 69.3V308.1M516.53 69.3V308.1M543.32 69.3V308.1M570.11 69.3V308.1" clip-path="url(#cRgrn_up)" fill="none" stroke="#00f000" stroke-opacity="0.075" stroke-width="0.8"/>
<path d="M329.27 308.10L329.38 306.10L329.52 304.15L329.68 302.29L329.86 300.52L330.05 298.86L330.27 297.33L330.51 295.94L330.77 294.64L331.06 293.42L331.36 292.27L331.68 291.16L332.02 290.08L332.39 289.03L332.77 287.98L333.18 286.92L333.61 285.84L334.05 284.76L334.52 283.70L335.01 282.66L335.52 281.62L336.05 280.59L336.60 279.54L337.17 278.48L337.76 277.40L338.38 276.30L339.01 275.19L339.66 274.06L340.34 272.93L341.03 271.78L341.75 270.62L342.49 269.45L343.25 268.27L344.02 267.08L344.82 265.88L345.64 264.66L346.48 263.44L347.35 262.20L348.23 260.95L349.13 259.68L350.06 258.36L351.00 257.00L351.96 255.65L352.95 254.37L353.96 253.18L354.98 252.03L356.03 250.91L357.10 249.82L358.19 248.76L359.30 247.72L360.43 246.70L361.58 245.70L362.75 244.72L363.95 243.76L365.16 242.81L366.40 241.90L367.65 241.02L368.93 240.16L370.22 239.32L371.54 238.48L372.88 237.63L374.24 236.77L375.62 235.88L377.02 234.96L378.44 234.01L379.88 233.03L381.34 232.04L382.82 231.05L384.33 230.07L385.85 229.13L387.40 228.22L388.96 227.37L390.55 226.58L392.16 225.83L393.79 225.10L395.43 224.37L397.10 223.61L398.79 222.85L400.50 222.09L402.24 221.33L403.99 220.56L405.76 219.80L407.56 219.03L409.37 218.26L411.80 217.04L414.27 215.84L416.77 214.65L419.31 213.48L421.89 212.33L424.50 211.19L427.15 210.08L429.84 208.99L432.56 207.92L435.31 206.86L438.11 205.82L440.94 204.79L443.80 203.77L446.71 202.75L449.65 201.74L452.62 200.73L455.63 199.73L458.68 198.73L461.76 197.74L464.88 196.77L468.04 195.81L471.23 194.86L474.46 193.94L477.72 193.03L481.02 192.13L484.36 191.24L487.73 190.36L491.14 189.47L494.59 188.60L498.07 187.74L501.59 186.88L505.15 186.03L508.74 185.18L512.36 184.32L516.03 183.45L519.73 182.58L523.46 181.69L527.23 180.77L531.04 179.84L534.89 178.90L538.77 177.96L542.68 177.04L546.64 176.13L550.63 175.23L554.65 174.33L558.71 173.44L562.81 172.55L566.95 171.67L571.12 170.79L575.32 169.92L579.57 169.05L583.85 168.19L588.16 167.33L592.51 166.48L596.90 165.64" fill="none" stroke="#00f000" stroke-width="1.15" stroke-opacity="0.8"/>
<path d="M335.43 308.10L335.97 306.00L336.52 304.02L337.10 302.18L337.71 300.50L338.33 298.99L338.97 297.64L339.64 296.43L340.32 295.31L341.03 294.25L341.76 293.23L342.52 292.21L343.29 291.21L344.08 290.24L344.90 289.30L345.74 288.38L346.60 287.48L347.48 286.59L348.38 285.73L349.30 284.89L350.25 284.06L351.22 283.25L352.20 282.47L353.21 281.72L354.24 280.98L355.30 280.25L356.37 279.53L357.47 278.81L358.58 278.10L359.72 277.38L360.88 276.65L362.07 275.93L363.27 275.23L364.49 274.53L365.74 273.82L367.01 273.11L368.30 272.39L369.61 271.65L370.94 270.89L372.29 270.10L373.67 269.28L375.07 268.43L376.49 267.57L377.93 266.71L379.39 265.83L380.87 264.90L382.37 263.95L383.90 262.99L385.45 262.05L387.02 261.17L388.61 260.36L390.22 259.65L391.85 258.98L393.51 258.33L395.18 257.71L396.88 257.10L398.60 256.53L400.34 255.98L402.10 255.48L403.89 255.00L405.69 254.57L407.52 254.19L409.37 253.85L410.98 252.88L412.60 251.92L414.24 250.96L415.89 250.00L417.56 249.04L419.25 248.08L420.95 247.12L422.67 246.17L424.41 245.21L426.16 244.26L427.92 243.31L429.71 242.36L431.50 241.40L433.32 240.44L435.15 239.48L436.99 238.54L438.85 237.61L440.73 236.71L442.63 235.84L444.53 235.00L446.46 234.16L448.40 233.32L450.36 232.47L452.33 231.57L454.32 230.66L456.33 229.75L458.35 228.87L460.38 228.04L462.44 227.26L464.50 226.51L466.59 225.79L468.69 225.07L470.80 224.34L472.94 223.60L475.08 222.87L477.25 222.14L479.43 221.44L481.62 220.77L483.84 220.12L486.06 219.48L488.31 218.87L490.57 218.26L492.84 217.67L495.13 217.08L497.44 216.51L499.76 215.95L502.10 215.38L504.46 214.83L506.83 214.28L509.21 213.74L511.62 213.19L514.04 212.65L516.47 212.09L518.92 211.53L521.39 210.95L523.87 210.38L526.37 209.79L528.88 209.21L531.41 208.63L533.96 208.05L536.52 207.48L539.10 206.91L541.69 206.36L544.30 205.83L546.92 205.31L549.57 204.79L552.22 204.28L554.90 203.77L557.58 203.26L560.29 202.76L563.01 202.27L565.75 201.78L568.50 201.29L571.27 200.82L574.05 200.34L576.85 199.87L579.67 199.41L582.50 198.96L585.35 198.51L588.21 198.06L591.09 197.63L593.99 197.20L596.90 196.78" fill="none" stroke="#00f000" stroke-width="1.15" stroke-opacity="0.8"/>
<clipPath id="cRred_up"><path d="M329.94 295.08L330.14 292.95L330.36 291.13L330.60 289.63L330.86 288.28L331.14 287.05L331.45 285.88L331.77 284.75L332.11 283.62L332.47 282.44L332.84 281.23L333.24 280.02L333.66 278.83L334.10 277.64L334.56 276.47L335.04 275.32L335.53 274.22L336.05 273.15L336.59 272.08L337.14 270.98L337.72 269.83L338.32 268.59L338.93 267.29L339.57 265.93L340.22 264.54L340.90 263.13L341.59 261.73L342.31 260.34L343.04 258.98L343.79 257.59L344.57 256.21L345.36 254.87L346.17 253.61L347.00 252.41L347.86 251.24L348.73 250.12L349.62 249.01L350.53 247.92L351.46 246.84L352.41 245.76L353.38 244.67L354.37 243.56L355.38 242.44L356.41 241.30L357.46 240.16L358.53 239.02L359.62 237.88L360.72 236.74L361.85 235.61L363.00 234.49L364.17 233.39L365.35 232.30L366.56 231.22L367.79 230.14L369.03 229.07L370.30 227.99L371.58 226.90L372.89 225.79L374.21 224.66L375.56 223.52L376.92 222.36L378.31 221.20L379.71 220.03L381.13 218.87L382.58 217.71L384.04 216.56L385.52 215.40L387.02 214.24L388.54 213.07L390.09 211.91L391.65 210.76L393.23 209.63L394.83 208.51L396.45 207.42L398.09 206.36L399.75 205.31L401.43 204.28L403.13 203.26L404.84 202.25L406.58 201.23L408.34 200.20L410.12 199.16L411.92 198.11L413.73 197.06L415.57 196.00L417.43 194.94L419.30 193.88L421.20 192.83L423.11 191.78L425.05 190.74L427.00 189.72L428.98 188.71L430.97 187.70L432.99 186.71L435.02 185.71L437.07 184.73L439.15 183.74L441.24 182.77L443.35 181.79L445.48 180.82L447.64 179.84L449.81 178.87L452.00 177.90L454.21 176.92L456.44 175.94L458.69 174.98L460.96 174.04L463.25 173.11L465.56 172.21L467.89 171.31L470.24 170.42L472.61 169.54L475.00 168.67L477.40 167.81L479.83 166.96L482.28 166.12L484.75 165.30L487.23 164.48L489.74 163.69L491.69 161.94L493.66 160.29L495.64 158.72L497.63 157.21L499.63 155.73L501.65 154.25L503.67 152.77L505.71 151.25L507.76 149.72L509.82 148.19L511.89 146.69L513.98 145.21L516.07 143.79L518.18 142.44L520.30 141.13L522.44 139.85L524.58 138.59L526.73 137.35L528.90 136.14L531.08 134.95L533.27 133.79L535.48 132.64L537.69 131.52L539.92 130.42L542.16 129.35L544.41 128.29L546.67 127.26L548.94 126.25L551.23 125.27L553.52 124.30L555.83 123.36L558.16 122.43L560.49 121.52L562.83 120.62L565.19 119.73L567.56 118.85L569.94 117.98L572.33 117.11L574.73 116.25L577.15 115.40L579.58 114.57L582.02 113.74L584.47 112.92L586.93 112.12L589.40 111.32L591.89 110.54L594.39 109.76L596.90 109.00L596.90 143.51L593.96 144.44L591.04 145.40L588.14 146.36L585.25 147.35L582.37 148.35L579.52 149.36L576.68 150.38L573.85 151.42L571.05 152.48L568.25 153.55L565.48 154.65L562.72 155.76L559.98 156.88L557.25 158.00L554.54 159.13L551.84 160.26L549.16 161.40L546.50 162.54L543.86 163.68L541.23 164.83L538.61 165.98L536.01 167.15L533.43 168.32L530.87 169.49L528.32 170.68L525.79 171.88L523.27 173.08L520.77 174.30L518.29 175.54L515.82 176.79L513.37 178.05L510.93 179.32L508.51 180.60L506.11 181.88L503.72 183.16L501.35 184.45L499.00 185.73L496.66 187.01L494.34 188.28L492.03 189.55L489.74 190.81L487.24 191.59L484.75 192.37L482.29 193.16L479.84 193.96L477.42 194.77L475.02 195.58L472.63 196.39L470.26 197.21L467.92 198.04L465.59 198.88L463.28 199.73L461.00 200.58L458.73 201.44L456.48 202.30L454.25 203.17L452.05 204.03L449.86 204.90L447.69 205.78L445.54 206.66L443.41 207.56L441.30 208.46L439.21 209.36L437.14 210.26L435.08 211.16L433.05 212.05L431.04 212.93L429.05 213.81L427.07 214.66L425.12 215.51L423.19 216.33L421.27 217.15L419.38 217.96L417.51 218.76L415.65 219.56L413.81 220.37L412.00 221.18L410.20 222.00L408.43 222.83L406.67 223.67L404.93 224.52L403.22 225.37L401.52 226.23L399.84 227.08L398.18 227.94L396.54 228.79L394.92 229.64L393.32 230.48L391.74 231.33L390.18 232.19L388.64 233.08L387.12 233.99L385.62 234.92L384.14 235.87L382.68 236.83L381.23 237.79L379.81 238.74L378.41 239.68L377.02 240.62L375.66 241.55L374.32 242.49L372.99 243.42L371.69 244.36L370.40 245.32L369.14 246.28L367.89 247.25L366.66 248.22L365.46 249.20L364.27 250.19L363.10 251.20L361.96 252.22L360.83 253.26L359.72 254.33L358.63 255.43L357.56 256.56L356.51 257.72L355.48 258.88L354.47 260.06L353.48 261.27L352.51 262.53L351.56 263.81L350.63 265.09L349.71 266.36L348.82 267.60L347.95 268.78L347.10 269.88L346.26 270.90L345.45 271.83L344.66 272.70L343.88 273.54L343.13 274.36L342.39 275.20L341.68 276.08L340.98 277.02L340.30 278.04L339.65 279.11L339.01 280.21L338.39 281.36L337.79 282.58L337.22 283.85L336.66 285.21L336.12 286.64L335.60 288.18L335.10 289.83L334.62 291.58L334.16 293.45L333.72 295.44L333.30 297.56L332.90 299.90L332.52 302.46L332.16 305.21L331.81 308.10Z"/></clipPath>
<path d="M329.94 295.08L330.14 292.95L330.36 291.13L330.60 289.63L330.86 288.28L331.14 287.05L331.45 285.88L331.77 284.75L332.11 283.62L332.47 282.44L332.84 281.23L333.24 280.02L333.66 278.83L334.10 277.64L334.56 276.47L335.04 275.32L335.53 274.22L336.05 273.15L336.59 272.08L337.14 270.98L337.72 269.83L338.32 268.59L338.93 267.29L339.57 265.93L340.22 264.54L340.90 263.13L341.59 261.73L342.31 260.34L343.04 258.98L343.79 257.59L344.57 256.21L345.36 254.87L346.17 253.61L347.00 252.41L347.86 251.24L348.73 250.12L349.62 249.01L350.53 247.92L351.46 246.84L352.41 245.76L353.38 244.67L354.37 243.56L355.38 242.44L356.41 241.30L357.46 240.16L358.53 239.02L359.62 237.88L360.72 236.74L361.85 235.61L363.00 234.49L364.17 233.39L365.35 232.30L366.56 231.22L367.79 230.14L369.03 229.07L370.30 227.99L371.58 226.90L372.89 225.79L374.21 224.66L375.56 223.52L376.92 222.36L378.31 221.20L379.71 220.03L381.13 218.87L382.58 217.71L384.04 216.56L385.52 215.40L387.02 214.24L388.54 213.07L390.09 211.91L391.65 210.76L393.23 209.63L394.83 208.51L396.45 207.42L398.09 206.36L399.75 205.31L401.43 204.28L403.13 203.26L404.84 202.25L406.58 201.23L408.34 200.20L410.12 199.16L411.92 198.11L413.73 197.06L415.57 196.00L417.43 194.94L419.30 193.88L421.20 192.83L423.11 191.78L425.05 190.74L427.00 189.72L428.98 188.71L430.97 187.70L432.99 186.71L435.02 185.71L437.07 184.73L439.15 183.74L441.24 182.77L443.35 181.79L445.48 180.82L447.64 179.84L449.81 178.87L452.00 177.90L454.21 176.92L456.44 175.94L458.69 174.98L460.96 174.04L463.25 173.11L465.56 172.21L467.89 171.31L470.24 170.42L472.61 169.54L475.00 168.67L477.40 167.81L479.83 166.96L482.28 166.12L484.75 165.30L487.23 164.48L489.74 163.69L491.69 161.94L493.66 160.29L495.64 158.72L497.63 157.21L499.63 155.73L501.65 154.25L503.67 152.77L505.71 151.25L507.76 149.72L509.82 148.19L511.89 146.69L513.98 145.21L516.07 143.79L518.18 142.44L520.30 141.13L522.44 139.85L524.58 138.59L526.73 137.35L528.90 136.14L531.08 134.95L533.27 133.79L535.48 132.64L537.69 131.52L539.92 130.42L542.16 129.35L544.41 128.29L546.67 127.26L548.94 126.25L551.23 125.27L553.52 124.30L555.83 123.36L558.16 122.43L560.49 121.52L562.83 120.62L565.19 119.73L567.56 118.85L569.94 117.98L572.33 117.11L574.73 116.25L577.15 115.40L579.58 114.57L582.02 113.74L584.47 112.92L586.93 112.12L589.40 111.32L591.89 110.54L594.39 109.76L596.90 109.00L596.90 143.51L593.96 144.44L591.04 145.40L588.14 146.36L585.25 147.35L582.37 148.35L579.52 149.36L576.68 150.38L573.85 151.42L571.05 152.48L568.25 153.55L565.48 154.65L562.72 155.76L559.98 156.88L557.25 158.00L554.54 159.13L551.84 160.26L549.16 161.40L546.50 162.54L543.86 163.68L541.23 164.83L538.61 165.98L536.01 167.15L533.43 168.32L530.87 169.49L528.32 170.68L525.79 171.88L523.27 173.08L520.77 174.30L518.29 175.54L515.82 176.79L513.37 178.05L510.93 179.32L508.51 180.60L506.11 181.88L503.72 183.16L501.35 184.45L499.00 185.73L496.66 187.01L494.34 188.28L492.03 189.55L489.74 190.81L487.24 191.59L484.75 192.37L482.29 193.16L479.84 193.96L477.42 194.77L475.02 195.58L472.63 196.39L470.26 197.21L467.92 198.04L465.59 198.88L463.28 199.73L461.00 200.58L458.73 201.44L456.48 202.30L454.25 203.17L452.05 204.03L449.86 204.90L447.69 205.78L445.54 206.66L443.41 207.56L441.30 208.46L439.21 209.36L437.14 210.26L435.08 211.16L433.05 212.05L431.04 212.93L429.05 213.81L427.07 214.66L425.12 215.51L423.19 216.33L421.27 217.15L419.38 217.96L417.51 218.76L415.65 219.56L413.81 220.37L412.00 221.18L410.20 222.00L408.43 222.83L406.67 223.67L404.93 224.52L403.22 225.37L401.52 226.23L399.84 227.08L398.18 227.94L396.54 228.79L394.92 229.64L393.32 230.48L391.74 231.33L390.18 232.19L388.64 233.08L387.12 233.99L385.62 234.92L384.14 235.87L382.68 236.83L381.23 237.79L379.81 238.74L378.41 239.68L377.02 240.62L375.66 241.55L374.32 242.49L372.99 243.42L371.69 244.36L370.40 245.32L369.14 246.28L367.89 247.25L366.66 248.22L365.46 249.20L364.27 250.19L363.10 251.20L361.96 252.22L360.83 253.26L359.72 254.33L358.63 255.43L357.56 256.56L356.51 257.72L355.48 258.88L354.47 260.06L353.48 261.27L352.51 262.53L351.56 263.81L350.63 265.09L349.71 266.36L348.82 267.60L347.95 268.78L347.10 269.88L346.26 270.90L345.45 271.83L344.66 272.70L343.88 273.54L343.13 274.36L342.39 275.20L341.68 276.08L340.98 277.02L340.30 278.04L339.65 279.11L339.01 280.21L338.39 281.36L337.79 282.58L337.22 283.85L336.66 285.21L336.12 286.64L335.60 288.18L335.10 289.83L334.62 291.58L334.16 293.45L333.72 295.44L333.30 297.56L332.90 299.90L332.52 302.46L332.16 305.21L331.81 308.10Z" fill="#ff1a1a" fill-opacity="0.32" stroke="none"/>
<path d="M335.70 69.3V308.1M339.05 69.3V308.1M342.39 69.3V308.1M345.74 69.3V308.1M349.09 69.3V308.1M352.44 69.3V308.1M355.79 69.3V308.1M362.49 69.3V308.1M369.19 69.3V308.1M382.58 69.3V308.1M395.98 69.3V308.1M409.37 69.3V308.1M422.76 69.3V308.1M436.16 69.3V308.1M462.95 69.3V308.1M489.74 69.3V308.1M516.53 69.3V308.1M543.32 69.3V308.1M570.11 69.3V308.1" clip-path="url(#cRred_up)" fill="none" stroke="#ff1a1a" stroke-opacity="0.075" stroke-width="0.8"/>
<path d="M329.94 295.08L330.14 292.95L330.36 291.13L330.60 289.63L330.86 288.28L331.14 287.05L331.45 285.88L331.77 284.75L332.11 283.62L332.47 282.44L332.84 281.23L333.24 280.02L333.66 278.83L334.10 277.64L334.56 276.47L335.04 275.32L335.53 274.22L336.05 273.15L336.59 272.08L337.14 270.98L337.72 269.83L338.32 268.59L338.93 267.29L339.57 265.93L340.22 264.54L340.90 263.13L341.59 261.73L342.31 260.34L343.04 258.98L343.79 257.59L344.57 256.21L345.36 254.87L346.17 253.61L347.00 252.41L347.86 251.24L348.73 250.12L349.62 249.01L350.53 247.92L351.46 246.84L352.41 245.76L353.38 244.67L354.37 243.56L355.38 242.44L356.41 241.30L357.46 240.16L358.53 239.02L359.62 237.88L360.72 236.74L361.85 235.61L363.00 234.49L364.17 233.39L365.35 232.30L366.56 231.22L367.79 230.14L369.03 229.07L370.30 227.99L371.58 226.90L372.89 225.79L374.21 224.66L375.56 223.52L376.92 222.36L378.31 221.20L379.71 220.03L381.13 218.87L382.58 217.71L384.04 216.56L385.52 215.40L387.02 214.24L388.54 213.07L390.09 211.91L391.65 210.76L393.23 209.63L394.83 208.51L396.45 207.42L398.09 206.36L399.75 205.31L401.43 204.28L403.13 203.26L404.84 202.25L406.58 201.23L408.34 200.20L410.12 199.16L411.92 198.11L413.73 197.06L415.57 196.00L417.43 194.94L419.30 193.88L421.20 192.83L423.11 191.78L425.05 190.74L427.00 189.72L428.98 188.71L430.97 187.70L432.99 186.71L435.02 185.71L437.07 184.73L439.15 183.74L441.24 182.77L443.35 181.79L445.48 180.82L447.64 179.84L449.81 178.87L452.00 177.90L454.21 176.92L456.44 175.94L458.69 174.98L460.96 174.04L463.25 173.11L465.56 172.21L467.89 171.31L470.24 170.42L472.61 169.54L475.00 168.67L477.40 167.81L479.83 166.96L482.28 166.12L484.75 165.30L487.23 164.48L489.74 163.69L491.69 161.94L493.66 160.29L495.64 158.72L497.63 157.21L499.63 155.73L501.65 154.25L503.67 152.77L505.71 151.25L507.76 149.72L509.82 148.19L511.89 146.69L513.98 145.21L516.07 143.79L518.18 142.44L520.30 141.13L522.44 139.85L524.58 138.59L526.73 137.35L528.90 136.14L531.08 134.95L533.27 133.79L535.48 132.64L537.69 131.52L539.92 130.42L542.16 129.35L544.41 128.29L546.67 127.26L548.94 126.25L551.23 125.27L553.52 124.30L555.83 123.36L558.16 122.43L560.49 121.52L562.83 120.62L565.19 119.73L567.56 118.85L569.94 117.98L572.33 117.11L574.73 116.25L577.15 115.40L579.58 114.57L582.02 113.74L584.47 112.92L586.93 112.12L589.40 111.32L591.89 110.54L594.39 109.76L596.90 109.00" fill="none" stroke="#ff1a1a" stroke-width="1.15" stroke-opacity="0.8"/>
<path d="M331.81 308.10L332.16 305.21L332.52 302.46L332.90 299.90L333.30 297.56L333.72 295.44L334.16 293.45L334.62 291.58L335.10 289.83L335.60 288.18L336.12 286.64L336.66 285.21L337.22 283.85L337.79 282.58L338.39 281.36L339.01 280.21L339.65 279.11L340.30 278.04L340.98 277.02L341.68 276.08L342.39 275.20L343.13 274.36L343.88 273.54L344.66 272.70L345.45 271.83L346.26 270.90L347.10 269.88L347.95 268.78L348.82 267.60L349.71 266.36L350.63 265.09L351.56 263.81L352.51 262.53L353.48 261.27L354.47 260.06L355.48 258.88L356.51 257.72L357.56 256.56L358.63 255.43L359.72 254.33L360.83 253.26L361.96 252.22L363.10 251.20L364.27 250.19L365.46 249.20L366.66 248.22L367.89 247.25L369.14 246.28L370.40 245.32L371.69 244.36L372.99 243.42L374.32 242.49L375.66 241.55L377.02 240.62L378.41 239.68L379.81 238.74L381.23 237.79L382.68 236.83L384.14 235.87L385.62 234.92L387.12 233.99L388.64 233.08L390.18 232.19L391.74 231.33L393.32 230.48L394.92 229.64L396.54 228.79L398.18 227.94L399.84 227.08L401.52 226.23L403.22 225.37L404.93 224.52L406.67 223.67L408.43 222.83L410.20 222.00L412.00 221.18L413.81 220.37L415.65 219.56L417.51 218.76L419.38 217.96L421.27 217.15L423.19 216.33L425.12 215.51L427.07 214.66L429.05 213.81L431.04 212.93L433.05 212.05L435.08 211.16L437.14 210.26L439.21 209.36L441.30 208.46L443.41 207.56L445.54 206.66L447.69 205.78L449.86 204.90L452.05 204.03L454.25 203.17L456.48 202.30L458.73 201.44L461.00 200.58L463.28 199.73L465.59 198.88L467.92 198.04L470.26 197.21L472.63 196.39L475.02 195.58L477.42 194.77L479.84 193.96L482.29 193.16L484.75 192.37L487.24 191.59L489.74 190.81L492.03 189.55L494.34 188.28L496.66 187.01L499.00 185.73L501.35 184.45L503.72 183.16L506.11 181.88L508.51 180.60L510.93 179.32L513.37 178.05L515.82 176.79L518.29 175.54L520.77 174.30L523.27 173.08L525.79 171.88L528.32 170.68L530.87 169.49L533.43 168.32L536.01 167.15L538.61 165.98L541.23 164.83L543.86 163.68L546.50 162.54L549.16 161.40L551.84 160.26L554.54 159.13L557.25 158.00L559.98 156.88L562.72 155.76L565.48 154.65L568.25 153.55L571.05 152.48L573.85 151.42L576.68 150.38L579.52 149.36L582.37 148.35L585.25 147.35L588.14 146.36L591.04 145.40L593.96 144.44L596.90 143.51" fill="none" stroke="#ff1a1a" stroke-width="1.15" stroke-opacity="0.8"/>
<path d="M409.37 289.66L416.14 289.37L423.19 289.10L430.51 288.83L438.11 288.58L445.98 288.33L454.12 288.09L462.54 287.87L471.23 287.66L480.20 287.46L489.43 287.27L498.95 287.10L508.74 286.93L518.80 286.77L529.13 286.61L539.74 286.46L550.63 286.32L561.78 286.19L573.21 286.07L584.92 285.96L596.90 285.86" fill="none" stroke="#0000ff" stroke-width="1.65" stroke-dasharray="8.5 2.5"/>
<path d="M409.37 308.32L596.90 308.32" fill="none" stroke="#0000ff" stroke-width="1.65" stroke-dasharray="8.5 2.5"/>
<path d="M409.37 218.26L412.16 217.72L415.00 217.13L417.88 216.50L420.81 215.83L423.79 215.08L426.82 214.25L429.89 213.37L433.01 212.46L436.18 211.53L439.40 210.62L442.67 209.75L445.98 208.93L449.34 208.19L452.74 207.48L456.20 206.79L459.70 206.12L463.25 205.47L466.85 204.84L470.50 204.22L474.19 203.60L477.93 202.99L481.72 202.39L485.55 201.78L489.43 201.17L493.37 200.56L497.34 199.98L501.37 199.41L505.44 198.84L509.56 198.25L513.73 197.64L517.95 196.99L522.21 196.29L526.52 195.55L530.88 194.79L535.29 194.03L539.74 193.28L544.24 192.56L548.79 191.88L553.39 191.20L558.03 190.53L562.73 189.86L567.46 189.21L572.25 188.56L577.09 187.93L581.97 187.30L586.90 186.69L591.88 186.09L596.90 185.50" fill="none" stroke="#00f000" stroke-width="1.65" stroke-dasharray="5.2 4.4"/>
<path d="M409.37 253.85L411.80 253.09L414.27 252.33L416.77 251.57L419.31 250.81L421.89 250.06L424.50 249.31L427.15 248.56L429.84 247.81L432.56 247.07L435.31 246.32L438.11 245.58L440.94 244.85L443.80 244.16L446.71 243.44L449.65 242.65L452.62 241.74L455.63 240.70L458.68 239.60L461.76 238.53L464.88 237.56L468.04 236.67L471.23 235.81L474.46 234.98L477.72 234.18L481.02 233.40L484.36 232.65L487.73 231.92L491.14 231.21L494.59 230.56L498.07 229.95L501.59 229.35L505.15 228.76L508.74 228.16L512.36 227.52L516.03 226.82L519.73 226.04L523.46 225.14L527.23 224.17L531.04 223.19L534.89 222.23L538.77 221.35L542.68 220.59L546.64 219.99L550.63 219.43L554.65 218.88L558.71 218.35L562.81 217.85L566.95 217.37L571.12 216.92L575.32 216.52L579.57 216.15L583.85 215.84L588.16 215.57L592.51 215.37L596.90 215.22" fill="none" stroke="#00f000" stroke-width="1.65" stroke-dasharray="5.2 4.4"/>
<path d="M489.74 163.69L493.22 162.58L496.74 161.45L500.30 160.32L503.90 159.17L507.53 158.00L511.20 156.83L514.91 155.64L518.65 154.43L522.44 153.19L526.25 151.93L530.11 150.65L534.01 149.38L537.94 148.11L541.91 146.86L545.91 145.64L549.96 144.43L554.04 143.23L558.16 142.04L562.31 140.85L566.50 139.67L570.73 138.50L575.00 137.34L579.31 136.19L583.65 135.05L588.03 133.92L592.45 132.79L596.90 131.68" fill="none" stroke="#ff1a1a" stroke-width="1.65" stroke-dasharray="11 3.5"/>
<path d="M489.74 190.81L493.22 189.87L496.74 188.91L500.30 187.93L503.90 186.93L507.53 185.92L511.20 184.90L514.91 183.86L518.65 182.80L522.44 181.74L526.25 180.64L530.11 179.50L534.01 178.33L537.94 177.17L541.91 176.04L545.91 174.96L549.96 173.92L554.04 172.88L558.16 171.86L562.31 170.85L566.50 169.85L570.73 168.87L575.00 167.90L579.31 166.96L583.65 166.03L588.03 165.12L592.45 164.23L596.90 163.36" fill="none" stroke="#ff1a1a" stroke-width="1.65" stroke-dasharray="11 3.5"/>
<line x1="409.37" x2="409.37" y1="200.14" y2="308.15" stroke="#808080" stroke-width="1" stroke-dasharray="4.7 4.8"/>
<line x1="489.74" x2="489.74" y1="164.34" y2="308.15" stroke="#808080" stroke-width="1" stroke-dasharray="4.7 4.8"/>
<rect x="329.00" y="69.30" width="267.90" height="238.85" fill="none" stroke="#000" stroke-width="1.2"/>
<path d="M395.98 308.15v-6.40M395.98 69.30v6.40M462.95 308.15v-6.40M462.95 69.30v6.40M529.92 308.15v-6.40M529.92 69.30v6.40M329.00 199.68h6.40M596.90 199.68h-6.40M329.00 145.40h6.40M596.90 145.40h-6.40M329.00 91.11h6.40M596.90 91.11h-6.40" fill="none" stroke="#000" stroke-width="1.05"/>
<path d="M329.00 275.78h6.40M596.90 275.78h-6.40M329.00 254.07h6.40M596.90 254.07h-6.40" fill="none" stroke="#505050" stroke-width="1.2"/>
<text x="329.30" y="323.4" text-anchor="middle">0</text>
<text x="396.28" y="323.4" text-anchor="middle">5</text>
<text x="457.15" y="323.4" textLength="12.1" lengthAdjust="spacingAndGlyphs">10</text>
<text x="524.12" y="323.4" textLength="12.1" lengthAdjust="spacingAndGlyphs">15</text>
<text x="591.10" y="323.4" textLength="12.1" lengthAdjust="spacingAndGlyphs">20</text>
<text x="379.25" y="339.4" textLength="167.5" lengthAdjust="spacingAndGlyphs">Cumulative run time [years]</text>
<text x="346.1" y="88.6" textLength="103" lengthAdjust="spacingAndGlyphs">Inverted ordering</text>
<text x="513.00" y="90.40" textLength="38.0" lengthAdjust="spacingAndGlyphs">DUNE</text>
<rect x="556.90" y="84.10" width="28.7" height="5.9" fill="#00f000" fill-opacity="0.32" stroke="#00f000" stroke-width="1.2"/>
<text x="515.80" y="101.50" textLength="35.3" lengthAdjust="spacingAndGlyphs">T2HK</text>
<rect x="556.90" y="95.20" width="28.7" height="5.9" fill="#0000ff" fill-opacity="0.32" stroke="#0000ff" stroke-width="1.2"/>
<text x="428.50" y="112.60" textLength="122.8" lengthAdjust="spacingAndGlyphs">DUNE/2 + T2HK/2</text>
<rect x="556.90" y="106.30" width="28.7" height="5.9" fill="#ff1a1a" fill-opacity="0.32" stroke="#ff1a1a" stroke-width="1.2"/>
</g>
<text x="29.9" y="312.45" text-anchor="end">0</text>
<text x="29.9" y="279.88" text-anchor="end">3</text>
<text x="29.9" y="258.17" text-anchor="end">5</text>
<text x="17.7" y="203.88" textLength="12.2" lengthAdjust="spacingAndGlyphs">10</text>
<text x="17.7" y="149.60" textLength="12.2" lengthAdjust="spacingAndGlyphs">15</text>
<text x="17.7" y="95.31" textLength="12.2" lengthAdjust="spacingAndGlyphs">20</text>
<text x="58.2" y="162.4" textLength="37.3" lengthAdjust="spacingAndGlyphs">staged</text>
<text x="44.1" y="173.1" textLength="51.4" lengthAdjust="spacingAndGlyphs">unstaged</text>
<line x1="97.1" x2="123.6" y1="159.6" y2="159.6" stroke="#222" stroke-width="1.2"/>
<line x1="97.1" x2="123.6" y1="170.4" y2="170.4" stroke="#111" stroke-width="1.9" stroke-dasharray="8.5 2.5" stroke-dashoffset="1.3"/>
<g transform="translate(15.2 218.2) rotate(-90)">
<text x="0" y="0" textLength="20.6" lengthAdjust="spacingAndGlyphs">min</text>
<path d="M28.9 -4.3 L29.9 -5 L31.9 2.0 L38.2 -10.9 L59.6 -10.9" fill="none" stroke="#222" stroke-width="0.8"/>
<text x="38.4" y="0" font-size="12.4">Δ</text>
<text x="47.0" y="0" font-style="italic" font-size="12">χ</text>
<text x="54.7" y="-4.3" font-size="8">2</text>
</g>
</svg></body></html>
